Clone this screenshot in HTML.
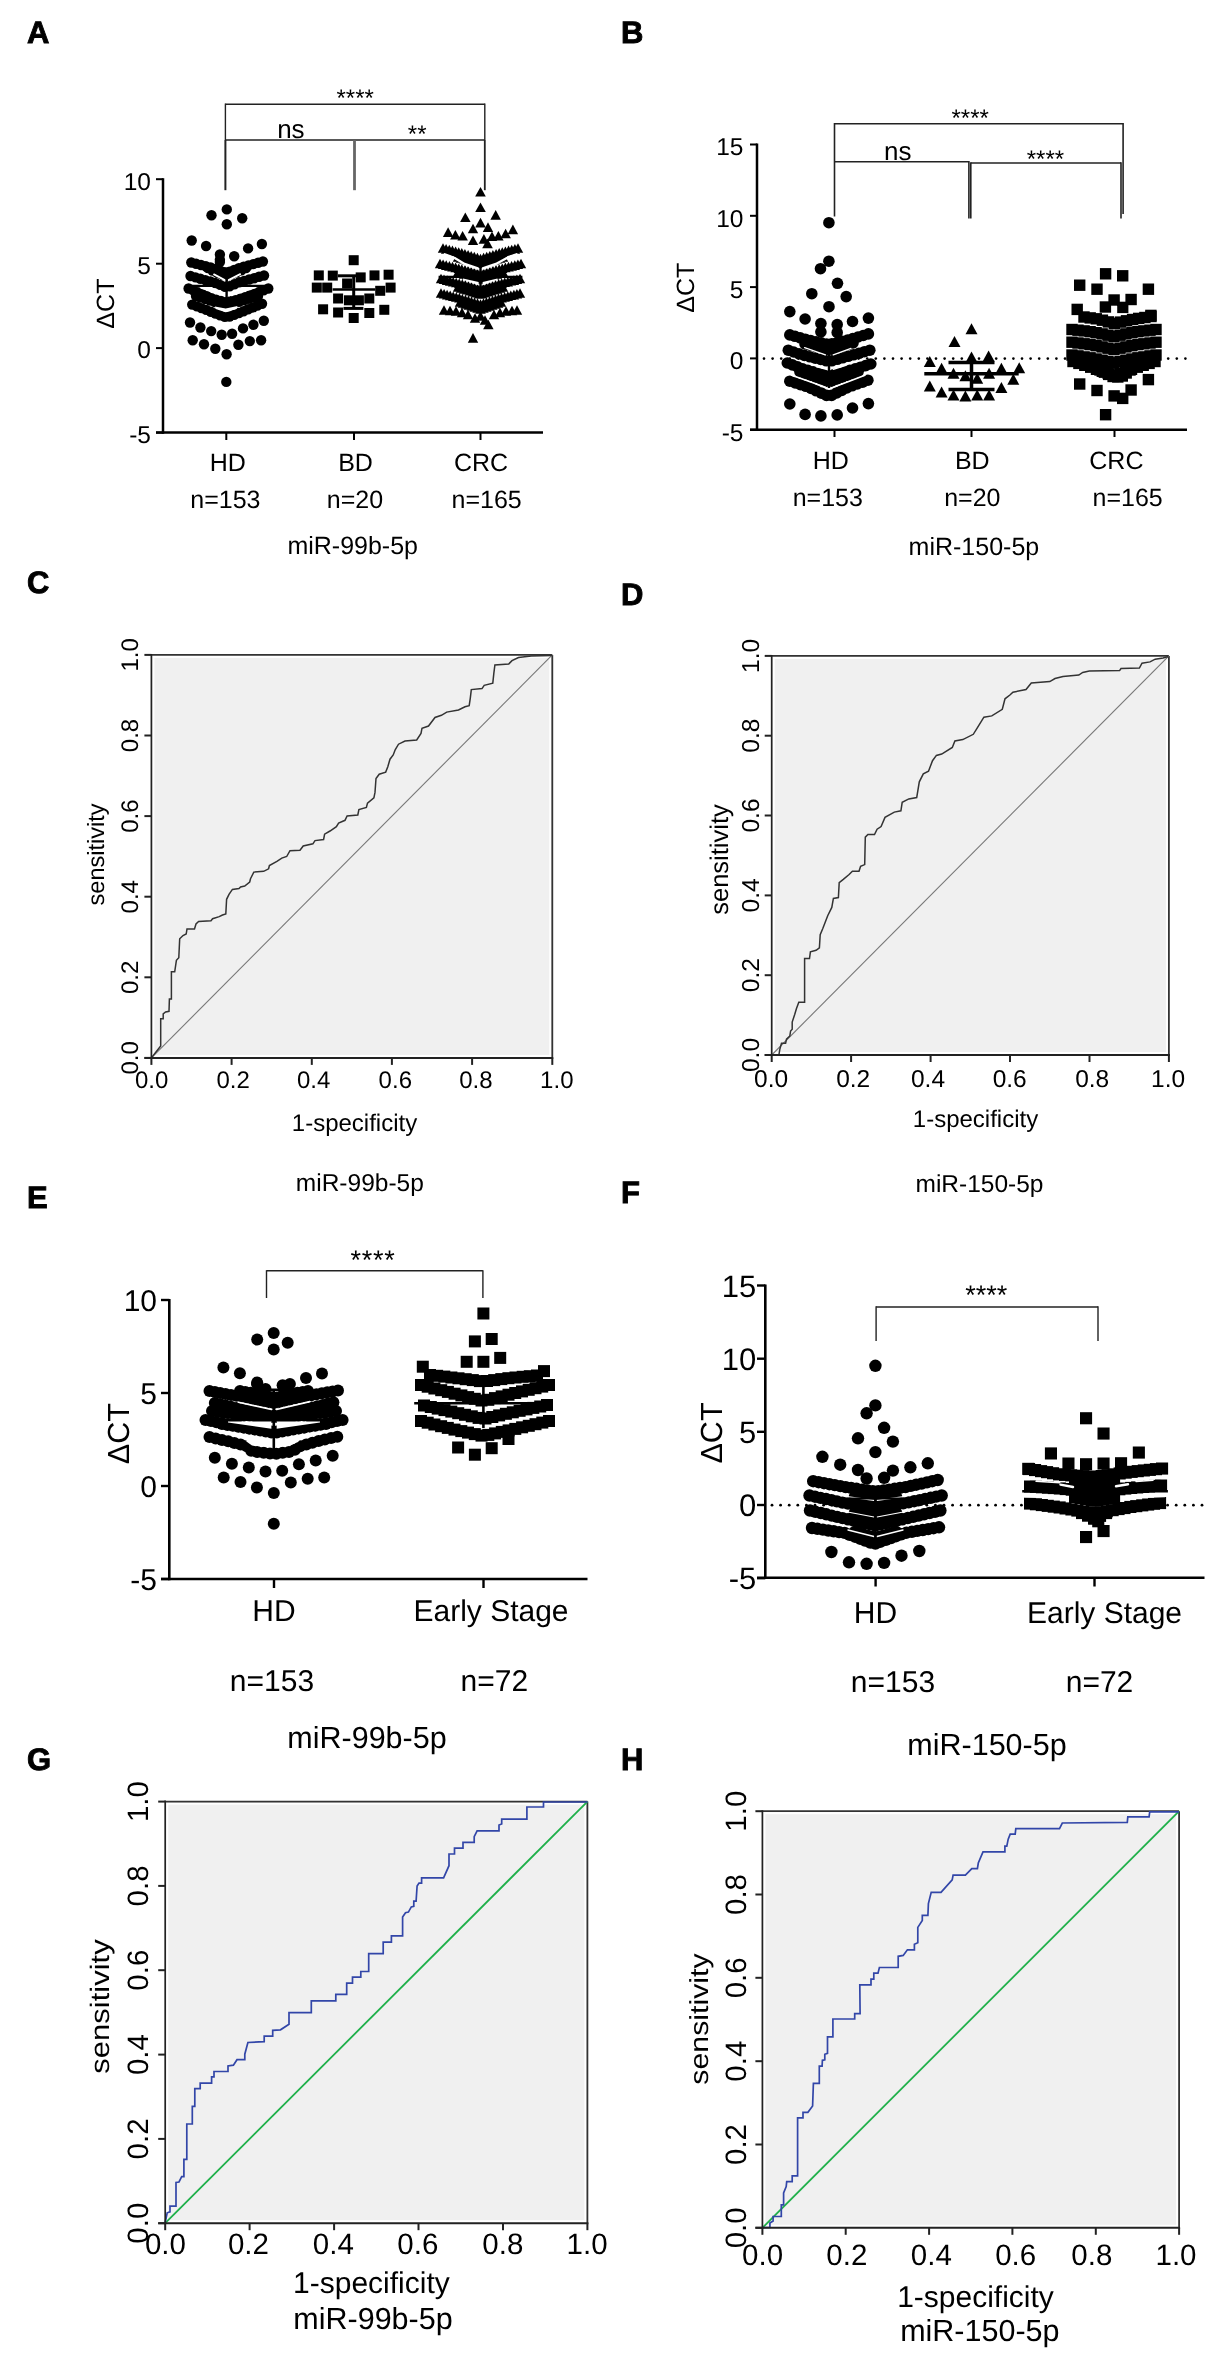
<!DOCTYPE html>
<html><head><meta charset="utf-8"><style>
html,body{margin:0;padding:0;background:#fff;}
body{width:1214px;height:2356px;overflow:hidden;}
svg{display:block;font-family:"Liberation Sans", sans-serif;will-change:transform;text-rendering:geometricPrecision;}
</style></head><body>
<svg width="1214" height="2356" viewBox="0 0 1214 2356">
<rect width="1214" height="2356" fill="#fff"/>
<text x="27" y="43" font-size="31" text-anchor="start" font-weight="bold" fill="#000" stroke="#000" stroke-width="0.9">A</text>
<text x="621" y="43" font-size="31" text-anchor="start" font-weight="bold" fill="#000" stroke="#000" stroke-width="0.9">B</text>
<text x="27" y="593" font-size="31" text-anchor="start" font-weight="bold" fill="#000" stroke="#000" stroke-width="0.9">C</text>
<text x="621" y="605" font-size="31" text-anchor="start" font-weight="bold" fill="#000" stroke="#000" stroke-width="0.9">D</text>
<text x="27" y="1208" font-size="31" text-anchor="start" font-weight="bold" fill="#000" stroke="#000" stroke-width="0.9">E</text>
<text x="621" y="1203" font-size="31" text-anchor="start" font-weight="bold" fill="#000" stroke="#000" stroke-width="0.9">F</text>
<text x="27" y="1770" font-size="31" text-anchor="start" font-weight="bold" fill="#000" stroke="#000" stroke-width="0.9">G</text>
<text x="621" y="1770" font-size="31" text-anchor="start" font-weight="bold" fill="#000" stroke="#000" stroke-width="0.9">H</text>
<line x1="163" y1="178.2" x2="163" y2="433.8" stroke="#000" stroke-width="2.5"/>
<line x1="156" y1="179.2" x2="163" y2="179.2" stroke="#000" stroke-width="2"/>
<text x="151" y="189.5" font-size="24.5" text-anchor="end" fill="#000">10</text>
<line x1="156" y1="263.7" x2="163" y2="263.7" stroke="#000" stroke-width="2"/>
<text x="151" y="274" font-size="24.5" text-anchor="end" fill="#000">5</text>
<line x1="156" y1="348.1" x2="163" y2="348.1" stroke="#000" stroke-width="2"/>
<text x="151" y="358.4" font-size="24.5" text-anchor="end" fill="#000">0</text>
<line x1="156" y1="432.6" x2="163" y2="432.6" stroke="#000" stroke-width="2"/>
<text x="151" y="442.9" font-size="24.5" text-anchor="end" fill="#000">-5</text>
<line x1="156" y1="432.6" x2="543" y2="432.6" stroke="#000" stroke-width="2.5"/>
<line x1="226.3" y1="432.6" x2="226.3" y2="440" stroke="#000" stroke-width="2"/>
<line x1="354" y1="432.6" x2="354" y2="440" stroke="#000" stroke-width="2"/>
<line x1="480.5" y1="432.6" x2="480.5" y2="440" stroke="#000" stroke-width="2"/>
<text x="113.9" y="303.6" font-size="25" text-anchor="middle" transform="rotate(-90 113.9 303.6)" fill="#000">ΔCT</text>
<text x="227.8" y="471" font-size="25" text-anchor="middle" fill="#000">HD</text>
<text x="355.5" y="471" font-size="25" text-anchor="middle" fill="#000">BD</text>
<text x="481" y="471" font-size="25" text-anchor="middle" fill="#000">CRC</text>
<text x="225.4" y="507.6" font-size="25" text-anchor="middle" fill="#000">n=153</text>
<text x="355" y="507.6" font-size="25" text-anchor="middle" fill="#000">n=20</text>
<text x="486.6" y="507.6" font-size="25" text-anchor="middle" fill="#000">n=165</text>
<text x="352.7" y="554" font-size="25" text-anchor="middle" fill="#000">miR-99b-5p</text>
<line x1="225.4" y1="104.2" x2="484.8" y2="104.2" stroke="#222" stroke-width="1.4"/>
<line x1="225.4" y1="103.5" x2="225.4" y2="140" stroke="#222" stroke-width="1.4"/>
<line x1="484.8" y1="103.5" x2="484.8" y2="140" stroke="#222" stroke-width="1.4"/>
<line x1="225.4" y1="140" x2="484.8" y2="140" stroke="#222" stroke-width="1.4"/>
<line x1="225.4" y1="140" x2="225.4" y2="190.2" stroke="#222" stroke-width="2"/>
<line x1="354.5" y1="140" x2="354.5" y2="190.2" stroke="#666" stroke-width="2.8"/>
<line x1="484.8" y1="140" x2="484.8" y2="190.2" stroke="#222" stroke-width="1.8"/>
<text x="355.2" y="106" font-size="24" text-anchor="middle" fill="#000" letter-spacing="0">****</text>
<text x="290.9" y="137.7" font-size="26" text-anchor="middle" fill="#000">ns</text>
<text x="417.2" y="141.5" font-size="24" text-anchor="middle" fill="#000">**</text>
<circle cx="226.8" cy="209.4" r="5.2"/>
<circle cx="211.5" cy="215.3" r="5.2"/>
<circle cx="242.2" cy="218.3" r="5.2"/>
<circle cx="226.8" cy="224.2" r="5.2"/>
<circle cx="191.7" cy="240.5" r="5.2"/>
<circle cx="206.1" cy="246" r="5.2"/>
<circle cx="219.9" cy="254.4" r="5.2"/>
<circle cx="234.2" cy="256.3" r="5.2"/>
<circle cx="248.1" cy="248.4" r="5.2"/>
<circle cx="261.9" cy="244" r="5.2"/>
<circle cx="219.9" cy="259.8" r="5.2"/>
<circle cx="219.9" cy="262" r="5.2"/>
<circle cx="190" cy="322.5" r="5.2"/>
<circle cx="200.4" cy="327.5" r="5.2"/>
<circle cx="211.2" cy="331.1" r="5.2"/>
<circle cx="221.7" cy="334.7" r="5.2"/>
<circle cx="232.1" cy="333.8" r="5.2"/>
<circle cx="243" cy="328.4" r="5.2"/>
<circle cx="253.4" cy="324.8" r="5.2"/>
<circle cx="263.8" cy="320.7" r="5.2"/>
<circle cx="192.7" cy="340.2" r="5.2"/>
<circle cx="204" cy="344.2" r="5.2"/>
<circle cx="215.3" cy="348.8" r="5.2"/>
<circle cx="226.6" cy="354.2" r="5.2"/>
<circle cx="238.4" cy="344.7" r="5.2"/>
<circle cx="249.8" cy="341.1" r="5.2"/>
<circle cx="261.1" cy="340.2" r="5.2"/>
<circle cx="226.3" cy="381.9" r="5.2"/>
<circle cx="191.3" cy="262.5" r="5.2"/>
<circle cx="196.1" cy="263.7" r="5.2"/>
<circle cx="201" cy="265" r="5.2"/>
<circle cx="205.8" cy="266.2" r="5.2"/>
<circle cx="210.7" cy="267.5" r="5.2"/>
<circle cx="215.5" cy="268.9" r="5.2"/>
<circle cx="220.2" cy="270.6" r="5.2"/>
<circle cx="224.8" cy="272.3" r="5.2"/>
<circle cx="229.5" cy="271.8" r="5.2"/>
<circle cx="234.1" cy="270" r="5.2"/>
<circle cx="238.8" cy="268.1" r="5.2"/>
<circle cx="243.6" cy="266.7" r="5.2"/>
<circle cx="248.4" cy="265.4" r="5.2"/>
<circle cx="253.2" cy="264.1" r="5.2"/>
<circle cx="258.1" cy="262.8" r="5.2"/>
<circle cx="262.9" cy="261.5" r="5.2"/>
<circle cx="208" cy="268" r="5.2"/>
<circle cx="212.5" cy="270.6" r="5.2"/>
<circle cx="217.2" cy="272.8" r="5.2"/>
<circle cx="222.1" cy="274.7" r="5.2"/>
<circle cx="226.9" cy="276.4" r="5.2"/>
<circle cx="231.7" cy="274.3" r="5.2"/>
<circle cx="236.5" cy="272.3" r="5.2"/>
<circle cx="241.3" cy="270.2" r="5.2"/>
<circle cx="246" cy="268" r="5.2"/>
<circle cx="190.5" cy="276" r="5.2"/>
<circle cx="195.5" cy="277.4" r="5.2"/>
<circle cx="200.4" cy="278.7" r="5.2"/>
<circle cx="205.4" cy="280.1" r="5.2"/>
<circle cx="210.4" cy="281.5" r="5.2"/>
<circle cx="215.3" cy="283" r="5.2"/>
<circle cx="220.1" cy="284.9" r="5.2"/>
<circle cx="224.9" cy="286.8" r="5.2"/>
<circle cx="229.6" cy="286.3" r="5.2"/>
<circle cx="234.4" cy="284.3" r="5.2"/>
<circle cx="239.2" cy="282.3" r="5.2"/>
<circle cx="244.1" cy="280.9" r="5.2"/>
<circle cx="249.1" cy="279.5" r="5.2"/>
<circle cx="254.1" cy="278.2" r="5.2"/>
<circle cx="259" cy="276.8" r="5.2"/>
<circle cx="264" cy="275.5" r="5.2"/>
<circle cx="188.6" cy="288.5" r="5.2"/>
<circle cx="193.2" cy="290.4" r="5.2"/>
<circle cx="197.8" cy="292.3" r="5.2"/>
<circle cx="202.4" cy="294.3" r="5.2"/>
<circle cx="206.9" cy="296.2" r="5.2"/>
<circle cx="211.5" cy="298.1" r="5.2"/>
<circle cx="216.2" cy="299.8" r="5.2"/>
<circle cx="221" cy="301" r="5.2"/>
<circle cx="225.9" cy="302.1" r="5.2"/>
<circle cx="230.7" cy="301.3" r="5.2"/>
<circle cx="235.5" cy="300.2" r="5.2"/>
<circle cx="240.3" cy="298.8" r="5.2"/>
<circle cx="245" cy="297.1" r="5.2"/>
<circle cx="249.6" cy="295.4" r="5.2"/>
<circle cx="254.3" cy="293.7" r="5.2"/>
<circle cx="259" cy="291.9" r="5.2"/>
<circle cx="263.6" cy="290.2" r="5.2"/>
<circle cx="268.3" cy="288.5" r="5.2"/>
<circle cx="196" cy="296" r="5.2"/>
<circle cx="200.7" cy="297.5" r="5.2"/>
<circle cx="205.5" cy="299" r="5.2"/>
<circle cx="210.2" cy="300.5" r="5.2"/>
<circle cx="214.9" cy="302" r="5.2"/>
<circle cx="219.8" cy="303.2" r="5.2"/>
<circle cx="224.6" cy="304.5" r="5.2"/>
<circle cx="229.4" cy="304.3" r="5.2"/>
<circle cx="234.2" cy="303.1" r="5.2"/>
<circle cx="239" cy="301.8" r="5.2"/>
<circle cx="243.7" cy="300.4" r="5.2"/>
<circle cx="248.5" cy="298.9" r="5.2"/>
<circle cx="253.2" cy="297.5" r="5.2"/>
<circle cx="258" cy="296" r="5.2"/>
<circle cx="192.2" cy="304.6" r="5.2"/>
<circle cx="196.9" cy="306.4" r="5.2"/>
<circle cx="201.5" cy="308.1" r="5.2"/>
<circle cx="206.2" cy="309.9" r="5.2"/>
<circle cx="210.8" cy="311.7" r="5.2"/>
<circle cx="215.5" cy="313.5" r="5.2"/>
<circle cx="220.1" cy="315.2" r="5.2"/>
<circle cx="224.8" cy="316.9" r="5.2"/>
<circle cx="229.5" cy="316.5" r="5.2"/>
<circle cx="234.2" cy="314.8" r="5.2"/>
<circle cx="238.9" cy="313" r="5.2"/>
<circle cx="243.5" cy="311.2" r="5.2"/>
<circle cx="248.1" cy="309.3" r="5.2"/>
<circle cx="252.8" cy="307.5" r="5.2"/>
<circle cx="257.4" cy="305.6" r="5.2"/>
<circle cx="262" cy="303.8" r="5.2"/>
<polyline points="214,274.4 225.3,280.4" fill="none" stroke="#fff" stroke-width="1.8" stroke-linecap="round" stroke-linejoin="round"/>
<polyline points="228.5,280.1 240.2,274.1" fill="none" stroke="#fff" stroke-width="1.8" stroke-linecap="round" stroke-linejoin="round"/>
<polygon points="200.4,287.3 214,288.3 225,292.8 225,296.6 212,292.2 200.4,288.6" fill="#fff"/>
<polygon points="229,296.6 229,292.8 243.9,288.3 255.6,287 255.6,288.3 242,292.5" fill="#fff"/>
<polygon points="214.9,306.6 225.7,308.4 237.5,306.1 236.6,308.9 225.7,312.3 215.8,308.9" fill="#fff"/>
<line x1="185" y1="285.8" x2="269.2" y2="285.8" stroke="#000" stroke-width="2.2"/>
<line x1="226.6" y1="268" x2="226.6" y2="305" stroke="#000" stroke-width="2.4"/>
<rect x="348.7" y="255.2" width="10" height="10"/>
<rect x="313.8" y="270.4" width="10" height="10"/>
<rect x="327.8" y="270.6" width="10" height="10"/>
<rect x="355.7" y="272.4" width="10" height="10"/>
<rect x="369.5" y="270.4" width="10" height="10"/>
<rect x="383.6" y="269.7" width="10" height="10"/>
<rect x="311.8" y="282.6" width="10" height="10"/>
<rect x="322.2" y="282.6" width="10" height="10"/>
<rect x="342.1" y="278.5" width="10" height="10"/>
<rect x="385.6" y="282.6" width="10" height="10"/>
<rect x="375.2" y="285.8" width="10" height="10"/>
<rect x="333.1" y="293.5" width="10" height="10"/>
<rect x="343.9" y="295.3" width="10" height="10"/>
<rect x="353.9" y="295.3" width="10" height="10"/>
<rect x="364.3" y="293.5" width="10" height="10"/>
<rect x="318.1" y="304.3" width="10" height="10"/>
<rect x="333.1" y="307.5" width="10" height="10"/>
<rect x="348.7" y="313" width="10" height="10"/>
<rect x="364.3" y="308" width="10" height="10"/>
<rect x="379.3" y="304.8" width="10" height="10"/>
<line x1="332.6" y1="289.4" x2="375.2" y2="289.4" stroke="#000" stroke-width="2.5"/>
<line x1="338" y1="275.8" x2="356" y2="275.8" stroke="#000" stroke-width="3"/>
<line x1="343.5" y1="308.4" x2="363.4" y2="308.4" stroke="#000" stroke-width="3"/>
<line x1="353.7" y1="275.8" x2="353.7" y2="308.4" stroke="#000" stroke-width="3"/>
<path d="M480.5 187L485.8 196.6L475.2 196.6Z"/>
<path d="M480.5 202.4L485.8 212L475.2 212Z"/>
<path d="M465.3 212.4L470.6 222L460.1 222Z"/>
<path d="M495.7 210.1L500.9 219.7L490.4 219.7Z"/>
<path d="M480.5 217.8L485.8 227.4L475.2 227.4Z"/>
<path d="M473 223.7L478.2 233.3L467.8 233.3Z"/>
<path d="M488 222.3L493.2 231.9L482.8 231.9Z"/>
<path d="M448.1 227.3L453.4 236.9L442.9 236.9Z"/>
<path d="M512.9 224.6L518.1 234.2L507.6 234.2Z"/>
<path d="M455.4 230L460.6 239.6L450.1 239.6Z"/>
<path d="M462.6 230.9L467.9 240.5L457.4 240.5Z"/>
<path d="M505.6 228.7L510.9 238.3L500.4 238.3Z"/>
<path d="M498.4 230.9L503.6 240.5L493.1 240.5Z"/>
<path d="M492 231.4L497.2 241L486.8 241Z"/>
<path d="M473 235.5L478.2 245.1L467.8 245.1Z"/>
<path d="M483.9 234.1L489.1 243.7L478.6 243.7Z"/>
<path d="M487.5 238.6L492.8 248.2L482.2 248.2Z"/>
<path d="M444 305.2L449.2 314.8L438.8 314.8Z"/>
<path d="M450 305.7L455.2 315.3L444.8 315.3Z"/>
<path d="M456 306.2L461.2 315.8L450.8 315.8Z"/>
<path d="M462 307.7L467.2 317.3L456.8 317.3Z"/>
<path d="M468 309.7L473.2 319.3L462.8 319.3Z"/>
<path d="M475 313.2L480.2 322.8L469.8 322.8Z"/>
<path d="M480.5 311.2L485.8 320.8L475.2 320.8Z"/>
<path d="M485 315.2L490.2 324.8L479.8 324.8Z"/>
<path d="M488.4 319.7L493.6 329.3L483.1 329.3Z"/>
<path d="M494 309.7L499.2 319.3L488.8 319.3Z"/>
<path d="M500 307.7L505.2 317.3L494.8 317.3Z"/>
<path d="M506 306.2L511.2 315.8L500.8 315.8Z"/>
<path d="M512 305.7L517.2 315.3L506.8 315.3Z"/>
<path d="M517 305.2L522.2 314.8L511.8 314.8Z"/>
<path d="M473 333.1L478.2 342.7L467.8 342.7Z"/>
<path d="M443 243.2L448.2 252.8L437.8 252.8Z"/>
<path d="M446.1 244L451.4 253.7L440.9 253.7Z"/>
<path d="M449.3 244.8L454.5 254.5L444 254.5Z"/>
<path d="M452.4 245.6L457.7 255.3L447.2 255.3Z"/>
<path d="M455.6 246.5L460.8 256.1L450.3 256.1Z"/>
<path d="M458.7 247.3L463.9 257L453.4 257Z"/>
<path d="M461.8 248.1L467.1 257.8L456.6 257.8Z"/>
<path d="M464.9 249L470.2 258.7L459.7 258.7Z"/>
<path d="M468.1 250L473.3 259.6L462.8 259.6Z"/>
<path d="M471.2 250.9L476.4 260.6L465.9 260.6Z"/>
<path d="M474.3 251.8L479.5 261.5L469 261.5Z"/>
<path d="M477.4 252.7L482.6 262.4L472.1 262.4Z"/>
<path d="M480.5 253.7L485.8 263.3L475.2 263.3Z"/>
<path d="M483.6 252.7L488.9 262.4L478.4 262.4Z"/>
<path d="M486.7 251.8L492 261.5L481.5 261.5Z"/>
<path d="M489.8 250.9L495.1 260.6L484.6 260.6Z"/>
<path d="M492.9 250L498.2 259.6L487.7 259.6Z"/>
<path d="M496.1 249L501.3 258.7L490.8 258.7Z"/>
<path d="M499.2 248.1L504.4 257.8L493.9 257.8Z"/>
<path d="M502.3 247.3L507.6 257L497.1 257Z"/>
<path d="M505.4 246.5L510.7 256.1L500.2 256.1Z"/>
<path d="M508.6 245.6L513.8 255.3L503.3 255.3Z"/>
<path d="M511.7 244.8L517 254.5L506.5 254.5Z"/>
<path d="M514.9 244L520.1 253.7L509.6 253.7Z"/>
<path d="M518 243.2L523.2 252.8L512.8 252.8Z"/>
<path d="M440 258.7L445.2 268.3L434.8 268.3Z"/>
<path d="M443.1 259.5L448.4 269.1L437.9 269.1Z"/>
<path d="M446.2 260.2L451.5 269.9L441 269.9Z"/>
<path d="M449.4 261L454.6 270.7L444.1 270.7Z"/>
<path d="M452.5 261.8L457.7 271.5L447.2 271.5Z"/>
<path d="M455.6 262.6L460.9 272.2L450.4 272.2Z"/>
<path d="M458.7 263.4L464 273L453.5 273Z"/>
<path d="M461.8 264.2L467.1 273.8L456.6 273.8Z"/>
<path d="M465 265L470.2 274.7L459.7 274.7Z"/>
<path d="M468.1 265.8L473.3 275.5L462.8 275.5Z"/>
<path d="M471.2 266.7L476.4 276.3L465.9 276.3Z"/>
<path d="M474.3 267.5L479.5 277.2L469 277.2Z"/>
<path d="M477.4 268.3L482.6 278L472.1 278Z"/>
<path d="M480.5 269.2L485.8 278.8L475.2 278.8Z"/>
<path d="M483.6 268.3L488.9 278L478.4 278Z"/>
<path d="M486.7 267.5L492 277.2L481.5 277.2Z"/>
<path d="M489.8 266.7L495.1 276.3L484.6 276.3Z"/>
<path d="M492.9 265.8L498.2 275.5L487.7 275.5Z"/>
<path d="M496 265L501.3 274.7L490.8 274.7Z"/>
<path d="M499.2 264.2L504.4 273.8L493.9 273.8Z"/>
<path d="M502.3 263.4L507.5 273L497 273Z"/>
<path d="M505.4 262.6L510.6 272.2L500.1 272.2Z"/>
<path d="M508.5 261.8L513.8 271.5L503.3 271.5Z"/>
<path d="M511.6 261L516.9 270.7L506.4 270.7Z"/>
<path d="M514.8 260.2L520 269.9L509.5 269.9Z"/>
<path d="M517.9 259.5L523.1 269.1L512.6 269.1Z"/>
<path d="M521 258.7L526.2 268.3L515.8 268.3Z"/>
<path d="M441 273.7L446.2 283.3L435.8 283.3Z"/>
<path d="M444 274.5L449.3 284.1L438.8 284.1Z"/>
<path d="M447.1 275.3L452.3 284.9L441.8 284.9Z"/>
<path d="M450.1 276.1L455.4 285.7L444.9 285.7Z"/>
<path d="M453.2 276.9L458.4 286.5L447.9 286.5Z"/>
<path d="M456.2 277.7L461.5 287.3L451 287.3Z"/>
<path d="M459.2 278.5L464.5 288.1L454 288.1Z"/>
<path d="M462.3 279.3L467.5 288.9L457 288.9Z"/>
<path d="M465.3 280.1L470.6 289.8L460.1 289.8Z"/>
<path d="M468.4 280.9L473.6 290.6L463.1 290.6Z"/>
<path d="M471.4 281.7L476.6 291.4L466.1 291.4Z"/>
<path d="M474.4 282.5L479.7 292.2L469.2 292.2Z"/>
<path d="M477.5 283.4L482.7 293L472.2 293Z"/>
<path d="M480.5 284.2L485.8 293.8L475.3 293.8Z"/>
<path d="M483.5 283.3L488.8 293L478.3 293Z"/>
<path d="M486.6 282.5L491.8 292.1L481.3 292.1Z"/>
<path d="M489.6 281.6L494.8 291.3L484.3 291.3Z"/>
<path d="M492.6 280.8L497.9 290.4L487.4 290.4Z"/>
<path d="M495.6 279.9L500.9 289.6L490.4 289.6Z"/>
<path d="M498.7 279L503.9 288.7L493.4 288.7Z"/>
<path d="M501.7 278.2L506.9 287.9L496.4 287.9Z"/>
<path d="M504.7 277.5L510 287.1L499.5 287.1Z"/>
<path d="M507.8 276.7L513 286.4L502.5 286.4Z"/>
<path d="M510.8 276L516.1 285.6L505.6 285.6Z"/>
<path d="M513.9 275.2L519.1 284.9L508.6 284.9Z"/>
<path d="M516.9 274.4L522.2 284.1L511.7 284.1Z"/>
<path d="M520 273.7L525.2 283.3L514.8 283.3Z"/>
<path d="M441 288.2L446.2 297.8L435.8 297.8Z"/>
<path d="M444.1 289L449.3 298.6L438.8 298.6Z"/>
<path d="M447.1 289.8L452.4 299.4L441.9 299.4Z"/>
<path d="M450.2 290.6L455.4 300.2L444.9 300.2Z"/>
<path d="M453.2 291.4L458.5 301L448 301Z"/>
<path d="M456.3 292.2L461.5 301.8L451 301.8Z"/>
<path d="M459.3 293L464.6 302.6L454.1 302.6Z"/>
<path d="M462.3 293.9L467.6 303.5L457.1 303.5Z"/>
<path d="M465.4 294.7L470.6 304.4L460.1 304.4Z"/>
<path d="M468.4 295.6L473.6 305.3L463.1 305.3Z"/>
<path d="M471.4 296.5L476.7 306.2L466.2 306.2Z"/>
<path d="M474.4 297.4L479.7 307.1L469.2 307.1Z"/>
<path d="M477.5 298.3L482.7 307.9L472.2 307.9Z"/>
<path d="M480.5 299.2L485.8 308.8L475.3 308.8Z"/>
<path d="M483.5 298.2L488.8 307.9L478.3 307.9Z"/>
<path d="M486.5 297.3L491.8 307L481.3 307Z"/>
<path d="M489.6 296.4L494.8 306L484.3 306Z"/>
<path d="M492.6 295.5L497.8 305.1L487.3 305.1Z"/>
<path d="M495.6 294.5L500.8 304.2L490.3 304.2Z"/>
<path d="M498.6 293.6L503.8 303.3L493.3 303.3Z"/>
<path d="M501.6 292.8L506.9 302.4L496.4 302.4Z"/>
<path d="M504.7 292L509.9 301.7L499.4 301.7Z"/>
<path d="M507.8 291.2L513 300.9L502.5 300.9Z"/>
<path d="M510.8 290.5L516.1 300.1L505.6 300.1Z"/>
<path d="M513.9 289.7L519.1 299.4L508.6 299.4Z"/>
<path d="M516.9 288.9L522.2 298.6L511.7 298.6Z"/>
<path d="M520 288.2L525.2 297.8L514.8 297.8Z"/>
<path d="M458 252.2L463.2 261.8L452.8 261.8Z"/>
<path d="M461 253L466.2 262.7L455.8 262.7Z"/>
<path d="M464 253.9L469.2 263.6L458.8 263.6Z"/>
<path d="M467 254.8L472.2 264.4L461.8 264.4Z"/>
<path d="M470 255.6L475.2 265.3L464.8 265.3Z"/>
<path d="M473 256.5L478.2 266.2L467.8 266.2Z"/>
<path d="M476 257.4L481.2 267L470.8 267Z"/>
<path d="M479 258.2L484.2 267.9L473.8 267.9Z"/>
<path d="M482 258.2L487.2 267.9L476.8 267.9Z"/>
<path d="M485 257.4L490.2 267L479.8 267Z"/>
<path d="M488 256.5L493.2 266.2L482.8 266.2Z"/>
<path d="M491 255.6L496.2 265.3L485.8 265.3Z"/>
<path d="M494 254.8L499.2 264.4L488.8 264.4Z"/>
<path d="M497 253.9L502.2 263.6L491.8 263.6Z"/>
<path d="M500 253L505.2 262.7L494.8 262.7Z"/>
<path d="M503 252.2L508.2 261.8L497.8 261.8Z"/>
<path d="M458 267.2L463.2 276.8L452.8 276.8Z"/>
<path d="M461 268.1L466.2 277.8L455.8 277.8Z"/>
<path d="M464 269L469.2 278.7L458.8 278.7Z"/>
<path d="M467 270L472.2 279.6L461.8 279.6Z"/>
<path d="M470 270.9L475.2 280.6L464.8 280.6Z"/>
<path d="M473 271.8L478.2 281.5L467.8 281.5Z"/>
<path d="M476 272.8L481.2 282.4L470.8 282.4Z"/>
<path d="M479 273.7L484.2 283.4L473.8 283.4Z"/>
<path d="M482 273.7L487.2 283.4L476.8 283.4Z"/>
<path d="M485 272.8L490.2 282.4L479.8 282.4Z"/>
<path d="M488 271.8L493.2 281.5L482.8 281.5Z"/>
<path d="M491 270.9L496.2 280.6L485.8 280.6Z"/>
<path d="M494 270L499.2 279.6L488.8 279.6Z"/>
<path d="M497 269L502.2 278.7L491.8 278.7Z"/>
<path d="M500 268.1L505.2 277.8L494.8 277.8Z"/>
<path d="M503 267.2L508.2 276.8L497.8 276.8Z"/>
<path d="M458 282.2L463.2 291.8L452.8 291.8Z"/>
<path d="M461 283.1L466.2 292.8L455.8 292.8Z"/>
<path d="M464 284L469.2 293.7L458.8 293.7Z"/>
<path d="M467 285L472.2 294.6L461.8 294.6Z"/>
<path d="M470 285.9L475.2 295.6L464.8 295.6Z"/>
<path d="M473 286.8L478.2 296.5L467.8 296.5Z"/>
<path d="M476 287.8L481.2 297.4L470.8 297.4Z"/>
<path d="M479 288.7L484.2 298.4L473.8 298.4Z"/>
<path d="M482 288.7L487.2 298.4L476.8 298.4Z"/>
<path d="M485 287.8L490.2 297.4L479.8 297.4Z"/>
<path d="M488 286.8L493.2 296.5L482.8 296.5Z"/>
<path d="M491 285.9L496.2 295.6L485.8 295.6Z"/>
<path d="M494 285L499.2 294.6L488.8 294.6Z"/>
<path d="M497 284L502.2 293.7L491.8 293.7Z"/>
<path d="M500 283.1L505.2 292.8L494.8 292.8Z"/>
<path d="M503 282.2L508.2 291.8L497.8 291.8Z"/>
<path d="M460 297.2L465.2 306.8L454.8 306.8Z"/>
<path d="M462.9 298.2L468.2 307.8L457.7 307.8Z"/>
<path d="M465.9 299.2L471.1 308.8L460.6 308.8Z"/>
<path d="M468.8 300.2L474 309.8L463.5 309.8Z"/>
<path d="M471.7 301.2L477 310.8L466.5 310.8Z"/>
<path d="M474.6 302.2L479.9 311.8L469.4 311.8Z"/>
<path d="M477.6 303.2L482.8 312.8L472.3 312.8Z"/>
<path d="M480.5 304.2L485.8 313.8L475.2 313.8Z"/>
<path d="M483.4 303.2L488.7 312.8L478.2 312.8Z"/>
<path d="M486.4 302.2L491.6 311.8L481.1 311.8Z"/>
<path d="M489.3 301.2L494.5 310.8L484 310.8Z"/>
<path d="M492.2 300.2L497.5 309.8L487 309.8Z"/>
<path d="M495.1 299.2L500.4 308.8L489.9 308.8Z"/>
<path d="M498.1 298.2L503.3 307.8L492.8 307.8Z"/>
<path d="M501 297.2L506.2 306.8L495.8 306.8Z"/>
<polyline points="444.8,254.3 454.7,258 464.6,264 477.8,268.5" fill="none" stroke="#fff" stroke-width="2.4" stroke-linecap="round" stroke-linejoin="round"/>
<polyline points="482.7,268.5 495.9,264 508.3,257.2 516.5,254.3" fill="none" stroke="#fff" stroke-width="2.4" stroke-linecap="round" stroke-linejoin="round"/>
<polygon points="463,278.4 478.6,282 478.6,285.2 463,279.8" fill="#fff"/>
<polygon points="482.7,285.2 482.7,282 497.5,278.4 497.5,279.8" fill="#fff"/>
<line x1="438.6" y1="276.8" x2="522.4" y2="276.8" stroke="#000" stroke-width="2.2"/>
<line x1="480.5" y1="262" x2="480.5" y2="296" stroke="#000" stroke-width="2.4"/>
<line x1="757" y1="143.5" x2="757" y2="431" stroke="#000" stroke-width="2.5"/>
<line x1="750" y1="144.5" x2="757" y2="144.5" stroke="#000" stroke-width="2"/>
<text x="743.5" y="155.3" font-size="24.5" text-anchor="end" fill="#000">15</text>
<line x1="750" y1="215.8" x2="757" y2="215.8" stroke="#000" stroke-width="2"/>
<text x="743.5" y="226.6" font-size="24.5" text-anchor="end" fill="#000">10</text>
<line x1="750" y1="287.1" x2="757" y2="287.1" stroke="#000" stroke-width="2"/>
<text x="743.5" y="297.9" font-size="24.5" text-anchor="end" fill="#000">5</text>
<line x1="750" y1="358.4" x2="757" y2="358.4" stroke="#000" stroke-width="2"/>
<text x="743.5" y="369.2" font-size="24.5" text-anchor="end" fill="#000">0</text>
<line x1="750" y1="429.7" x2="757" y2="429.7" stroke="#000" stroke-width="2"/>
<text x="743.5" y="440.5" font-size="24.5" text-anchor="end" fill="#000">-5</text>
<line x1="750" y1="429.7" x2="1187" y2="429.7" stroke="#000" stroke-width="2.5"/>
<line x1="834.5" y1="429.7" x2="834.5" y2="437" stroke="#000" stroke-width="2"/>
<line x1="971.5" y1="429.7" x2="971.5" y2="437" stroke="#000" stroke-width="2"/>
<line x1="1114.5" y1="429.7" x2="1114.5" y2="437" stroke="#000" stroke-width="2"/>
<circle cx="764" cy="358.6" r="1.3"/>
<circle cx="772.6" cy="358.6" r="1.3"/>
<circle cx="781.2" cy="358.6" r="1.3"/>
<circle cx="789.8" cy="358.6" r="1.3"/>
<circle cx="798.4" cy="358.6" r="1.3"/>
<circle cx="807" cy="358.6" r="1.3"/>
<circle cx="815.6" cy="358.6" r="1.3"/>
<circle cx="824.2" cy="358.6" r="1.3"/>
<circle cx="832.8" cy="358.6" r="1.3"/>
<circle cx="841.4" cy="358.6" r="1.3"/>
<circle cx="850" cy="358.6" r="1.3"/>
<circle cx="858.6" cy="358.6" r="1.3"/>
<circle cx="867.2" cy="358.6" r="1.3"/>
<circle cx="875.8" cy="358.6" r="1.3"/>
<circle cx="884.4" cy="358.6" r="1.3"/>
<circle cx="893" cy="358.6" r="1.3"/>
<circle cx="901.6" cy="358.6" r="1.3"/>
<circle cx="910.2" cy="358.6" r="1.3"/>
<circle cx="918.8" cy="358.6" r="1.3"/>
<circle cx="927.4" cy="358.6" r="1.3"/>
<circle cx="936" cy="358.6" r="1.3"/>
<circle cx="944.6" cy="358.6" r="1.3"/>
<circle cx="953.2" cy="358.6" r="1.3"/>
<circle cx="961.8" cy="358.6" r="1.3"/>
<circle cx="970.4" cy="358.6" r="1.3"/>
<circle cx="979" cy="358.6" r="1.3"/>
<circle cx="987.6" cy="358.6" r="1.3"/>
<circle cx="996.2" cy="358.6" r="1.3"/>
<circle cx="1004.8" cy="358.6" r="1.3"/>
<circle cx="1013.4" cy="358.6" r="1.3"/>
<circle cx="1022" cy="358.6" r="1.3"/>
<circle cx="1030.6" cy="358.6" r="1.3"/>
<circle cx="1039.2" cy="358.6" r="1.3"/>
<circle cx="1047.8" cy="358.6" r="1.3"/>
<circle cx="1056.4" cy="358.6" r="1.3"/>
<circle cx="1065" cy="358.6" r="1.3"/>
<circle cx="1073.6" cy="358.6" r="1.3"/>
<circle cx="1082.2" cy="358.6" r="1.3"/>
<circle cx="1090.8" cy="358.6" r="1.3"/>
<circle cx="1099.4" cy="358.6" r="1.3"/>
<circle cx="1108" cy="358.6" r="1.3"/>
<circle cx="1116.6" cy="358.6" r="1.3"/>
<circle cx="1125.2" cy="358.6" r="1.3"/>
<circle cx="1133.8" cy="358.6" r="1.3"/>
<circle cx="1142.4" cy="358.6" r="1.3"/>
<circle cx="1151" cy="358.6" r="1.3"/>
<circle cx="1159.6" cy="358.6" r="1.3"/>
<circle cx="1168.2" cy="358.6" r="1.3"/>
<circle cx="1176.8" cy="358.6" r="1.3"/>
<circle cx="1185.4" cy="358.6" r="1.3"/>
<text x="694" y="287.8" font-size="25" text-anchor="middle" transform="rotate(-90 694 287.8)" fill="#000">ΔCT</text>
<text x="830.7" y="469" font-size="25" text-anchor="middle" fill="#000">HD</text>
<text x="972.3" y="469" font-size="25" text-anchor="middle" fill="#000">BD</text>
<text x="1116.4" y="469" font-size="25" text-anchor="middle" fill="#000">CRC</text>
<text x="827.8" y="506" font-size="25" text-anchor="middle" fill="#000">n=153</text>
<text x="972.3" y="506" font-size="25" text-anchor="middle" fill="#000">n=20</text>
<text x="1127.6" y="506" font-size="25" text-anchor="middle" fill="#000">n=165</text>
<text x="973.9" y="555.3" font-size="25" text-anchor="middle" fill="#000">miR-150-5p</text>
<line x1="834.5" y1="123.7" x2="1123.1" y2="123.7" stroke="#222" stroke-width="1.4"/>
<line x1="834.5" y1="123" x2="834.5" y2="216.5" stroke="#222" stroke-width="1.6"/>
<line x1="1123.1" y1="123" x2="1123.1" y2="214" stroke="#222" stroke-width="1.6"/>
<line x1="834.5" y1="161.7" x2="968.9" y2="161.7" stroke="#222" stroke-width="1.4"/>
<line x1="968.9" y1="161" x2="968.9" y2="218.6" stroke="#222" stroke-width="1.6"/>
<line x1="970.8" y1="163" x2="1121" y2="163" stroke="#222" stroke-width="1.4"/>
<line x1="970.8" y1="162.3" x2="970.8" y2="218.6" stroke="#222" stroke-width="1.6"/>
<line x1="1121" y1="162.3" x2="1121" y2="218.6" stroke="#222" stroke-width="1.6"/>
<text x="970.2" y="126" font-size="24" text-anchor="middle" fill="#000">****</text>
<text x="897.7" y="159.8" font-size="26" text-anchor="middle" fill="#000">ns</text>
<text x="1045.4" y="166.5" font-size="24" text-anchor="middle" fill="#000">****</text>
<circle cx="828.9" cy="222.7" r="5.8"/>
<circle cx="828.9" cy="261.2" r="5.8"/>
<circle cx="820.5" cy="268.7" r="5.8"/>
<circle cx="837.5" cy="283.3" r="5.8"/>
<circle cx="811.8" cy="293.7" r="5.8"/>
<circle cx="846.2" cy="296.6" r="5.8"/>
<circle cx="829" cy="306.7" r="5.8"/>
<circle cx="789.8" cy="311.6" r="5.8"/>
<circle cx="805.1" cy="319" r="5.8"/>
<circle cx="820.9" cy="323.5" r="5.8"/>
<circle cx="837.2" cy="324.5" r="5.8"/>
<circle cx="852.5" cy="321.5" r="5.8"/>
<circle cx="868.4" cy="318.1" r="5.8"/>
<circle cx="820.9" cy="331.9" r="5.8"/>
<circle cx="837.2" cy="332.4" r="5.8"/>
<circle cx="789.8" cy="404" r="5.8"/>
<circle cx="805.1" cy="414.4" r="5.8"/>
<circle cx="820.9" cy="415.9" r="5.8"/>
<circle cx="837.2" cy="414.9" r="5.8"/>
<circle cx="852.5" cy="408" r="5.8"/>
<circle cx="868.4" cy="403.6" r="5.8"/>
<circle cx="789.8" cy="334.9" r="5.8"/>
<circle cx="795" cy="336.3" r="5.8"/>
<circle cx="800.2" cy="337.8" r="5.8"/>
<circle cx="805.4" cy="339.2" r="5.8"/>
<circle cx="810.7" cy="340.6" r="5.8"/>
<circle cx="816" cy="341.8" r="5.8"/>
<circle cx="821.3" cy="342.9" r="5.8"/>
<circle cx="826.6" cy="344" r="5.8"/>
<circle cx="831.8" cy="343.8" r="5.8"/>
<circle cx="837.1" cy="342.6" r="5.8"/>
<circle cx="842.4" cy="341.3" r="5.8"/>
<circle cx="847.6" cy="340.1" r="5.8"/>
<circle cx="852.8" cy="338.6" r="5.8"/>
<circle cx="858" cy="337" r="5.8"/>
<circle cx="863.2" cy="335.5" r="5.8"/>
<circle cx="868.4" cy="333.9" r="5.8"/>
<circle cx="805" cy="344" r="5.8"/>
<circle cx="810.4" cy="345.3" r="5.8"/>
<circle cx="815.7" cy="346.7" r="5.8"/>
<circle cx="821.1" cy="348" r="5.8"/>
<circle cx="826.5" cy="349.4" r="5.8"/>
<circle cx="831.8" cy="349.3" r="5.8"/>
<circle cx="837.2" cy="348" r="5.8"/>
<circle cx="842.5" cy="346.5" r="5.8"/>
<circle cx="847.8" cy="344.7" r="5.8"/>
<circle cx="853" cy="343" r="5.8"/>
<circle cx="788.3" cy="350.2" r="5.8"/>
<circle cx="793.6" cy="352" r="5.8"/>
<circle cx="799" cy="353.8" r="5.8"/>
<circle cx="804.4" cy="355.4" r="5.8"/>
<circle cx="809.9" cy="356.8" r="5.8"/>
<circle cx="815.3" cy="358.1" r="5.8"/>
<circle cx="820.8" cy="359.5" r="5.8"/>
<circle cx="826.3" cy="360.8" r="5.8"/>
<circle cx="831.8" cy="360.8" r="5.8"/>
<circle cx="837.2" cy="359.3" r="5.8"/>
<circle cx="842.6" cy="357.8" r="5.8"/>
<circle cx="848.1" cy="356.3" r="5.8"/>
<circle cx="853.5" cy="354.8" r="5.8"/>
<circle cx="859" cy="353.3" r="5.8"/>
<circle cx="864.4" cy="351.7" r="5.8"/>
<circle cx="869.8" cy="350.2" r="5.8"/>
<circle cx="787.3" cy="363" r="5.8"/>
<circle cx="792.4" cy="364.9" r="5.8"/>
<circle cx="797.5" cy="366.8" r="5.8"/>
<circle cx="802.6" cy="368.8" r="5.8"/>
<circle cx="807.8" cy="370.4" r="5.8"/>
<circle cx="813.1" cy="371.8" r="5.8"/>
<circle cx="818.3" cy="373.2" r="5.8"/>
<circle cx="823.6" cy="374.6" r="5.8"/>
<circle cx="828.9" cy="376" r="5.8"/>
<circle cx="834.1" cy="374.6" r="5.8"/>
<circle cx="839.4" cy="373.2" r="5.8"/>
<circle cx="844.7" cy="371.8" r="5.8"/>
<circle cx="849.9" cy="370.3" r="5.8"/>
<circle cx="855.2" cy="368.8" r="5.8"/>
<circle cx="860.4" cy="367.2" r="5.8"/>
<circle cx="865.6" cy="365.6" r="5.8"/>
<circle cx="870.8" cy="364" r="5.8"/>
<circle cx="800" cy="372" r="5.8"/>
<circle cx="805.3" cy="373.8" r="5.8"/>
<circle cx="810.6" cy="375.5" r="5.8"/>
<circle cx="815.9" cy="377.3" r="5.8"/>
<circle cx="821.1" cy="379.2" r="5.8"/>
<circle cx="826.4" cy="381.1" r="5.8"/>
<circle cx="831.6" cy="381.1" r="5.8"/>
<circle cx="836.9" cy="379.2" r="5.8"/>
<circle cx="842.1" cy="377.3" r="5.8"/>
<circle cx="847.4" cy="375.5" r="5.8"/>
<circle cx="852.7" cy="373.8" r="5.8"/>
<circle cx="858" cy="372" r="5.8"/>
<circle cx="789.8" cy="381.2" r="5.8"/>
<circle cx="795.2" cy="382.9" r="5.8"/>
<circle cx="800.5" cy="384.6" r="5.8"/>
<circle cx="805.9" cy="386.3" r="5.8"/>
<circle cx="811.1" cy="388.4" r="5.8"/>
<circle cx="816.2" cy="390.8" r="5.8"/>
<circle cx="821.4" cy="393.1" r="5.8"/>
<circle cx="826.5" cy="395.4" r="5.8"/>
<circle cx="831.6" cy="395.4" r="5.8"/>
<circle cx="836.7" cy="392.9" r="5.8"/>
<circle cx="841.7" cy="390.5" r="5.8"/>
<circle cx="846.8" cy="388" r="5.8"/>
<circle cx="852" cy="385.8" r="5.8"/>
<circle cx="857.3" cy="383.9" r="5.8"/>
<circle cx="862.6" cy="382.1" r="5.8"/>
<circle cx="867.9" cy="380.2" r="5.8"/>
<polyline points="804.6,347.6 825.4,354.8" fill="none" stroke="#fff" stroke-width="1.4" stroke-linecap="round" stroke-linejoin="round"/>
<polyline points="833.3,354.8 851,348.4" fill="none" stroke="#fff" stroke-width="1.4" stroke-linecap="round" stroke-linejoin="round"/>
<polyline points="816.5,366.4 827.3,369.6" fill="none" stroke="#fff" stroke-width="1.6" stroke-linecap="round" stroke-linejoin="round"/>
<polyline points="833.3,369.4 845,365.5" fill="none" stroke="#fff" stroke-width="1.4" stroke-linecap="round" stroke-linejoin="round"/>
<polyline points="791.7,375.3 808,381 825.4,387.2" fill="none" stroke="#fff" stroke-width="1.6" stroke-linecap="round" stroke-linejoin="round"/>
<polyline points="833.3,387.2 850,381 864.9,375.3" fill="none" stroke="#fff" stroke-width="1.6" stroke-linecap="round" stroke-linejoin="round"/>
<line x1="829" y1="345" x2="829" y2="388" stroke="#000" stroke-width="2.4"/>
<path d="M971.5 323.3L977.5 334.3L965.5 334.3Z"/>
<path d="M954.5 336.1L960.5 347.1L948.5 347.1Z"/>
<path d="M971.5 351.5L977.5 362.5L965.5 362.5Z"/>
<path d="M988.6 350.5L994.6 361.5L982.6 361.5Z"/>
<path d="M929.8 355.9L935.8 366.9L923.8 366.9Z"/>
<path d="M941.6 362.8L947.6 373.8L935.6 373.8Z"/>
<path d="M953.5 367.8L959.5 378.8L947.5 378.8Z"/>
<path d="M965.4 370.2L971.4 381.2L959.4 381.2Z"/>
<path d="M977.2 372.7L983.2 383.7L971.2 383.7Z"/>
<path d="M989.1 367.8L995.1 378.8L983.1 378.8Z"/>
<path d="M1001.4 362.8L1007.4 373.8L995.4 373.8Z"/>
<path d="M1019.2 362.3L1025.2 373.3L1013.2 373.3Z"/>
<path d="M1013.3 373.7L1019.3 384.7L1007.3 384.7Z"/>
<path d="M929.8 380.6L935.8 391.6L923.8 391.6Z"/>
<path d="M941.6 386.5L947.6 397.5L935.6 397.5Z"/>
<path d="M953.5 389.5L959.5 400.5L947.5 400.5Z"/>
<path d="M965.4 390.5L971.4 401.5L959.4 401.5Z"/>
<path d="M977.2 389.5L983.2 400.5L971.2 400.5Z"/>
<path d="M989.1 389.5L995.1 400.5L983.1 400.5Z"/>
<path d="M1001.4 382.1L1007.4 393.1L995.4 393.1Z"/>
<line x1="924.3" y1="373.8" x2="1018.7" y2="373.8" stroke="#000" stroke-width="3.5"/>
<line x1="948.5" y1="362.4" x2="994.5" y2="362.4" stroke="#000" stroke-width="3.5"/>
<line x1="948.5" y1="389.6" x2="994.5" y2="389.6" stroke="#000" stroke-width="3.5"/>
<line x1="971.5" y1="362.4" x2="971.5" y2="389.6" stroke="#000" stroke-width="3.5"/>
<rect x="1099.9" y="268.1" width="11.4" height="11.4"/>
<rect x="1117" y="270.1" width="11.4" height="11.4"/>
<rect x="1074" y="279.5" width="11.4" height="11.4"/>
<rect x="1091.3" y="283.5" width="11.4" height="11.4"/>
<rect x="1142.7" y="283.5" width="11.4" height="11.4"/>
<rect x="1108.4" y="294.3" width="11.4" height="11.4"/>
<rect x="1125.4" y="293.8" width="11.4" height="11.4"/>
<rect x="1071.5" y="303.7" width="11.4" height="11.4"/>
<rect x="1099.7" y="301.3" width="11.4" height="11.4"/>
<rect x="1117" y="301.7" width="11.4" height="11.4"/>
<rect x="1145.2" y="309.7" width="11.4" height="11.4"/>
<rect x="1142.7" y="373.9" width="11.4" height="11.4"/>
<rect x="1074" y="378.3" width="11.4" height="11.4"/>
<rect x="1091.3" y="384.8" width="11.4" height="11.4"/>
<rect x="1125.4" y="384.3" width="11.4" height="11.4"/>
<rect x="1108.4" y="390.2" width="11.4" height="11.4"/>
<rect x="1117" y="392.7" width="11.4" height="11.4"/>
<rect x="1099.9" y="409" width="11.4" height="11.4"/>
<rect x="1078.3" y="311.3" width="11.4" height="11.4"/>
<rect x="1084.5" y="312.2" width="11.4" height="11.4"/>
<rect x="1090.6" y="313.1" width="11.4" height="11.4"/>
<rect x="1096.7" y="314.5" width="11.4" height="11.4"/>
<rect x="1102.6" y="316.2" width="11.4" height="11.4"/>
<rect x="1108.6" y="317.7" width="11.4" height="11.4"/>
<rect x="1114.7" y="316.4" width="11.4" height="11.4"/>
<rect x="1120.8" y="315.1" width="11.4" height="11.4"/>
<rect x="1126.9" y="313.8" width="11.4" height="11.4"/>
<rect x="1133" y="312.7" width="11.4" height="11.4"/>
<rect x="1139.2" y="311.8" width="11.4" height="11.4"/>
<rect x="1145.3" y="310.8" width="11.4" height="11.4"/>
<rect x="1066.3" y="323.8" width="11.4" height="11.4"/>
<rect x="1072.3" y="324.5" width="11.4" height="11.4"/>
<rect x="1078.4" y="325.2" width="11.4" height="11.4"/>
<rect x="1084.4" y="326" width="11.4" height="11.4"/>
<rect x="1090.4" y="327" width="11.4" height="11.4"/>
<rect x="1096.4" y="328.2" width="11.4" height="11.4"/>
<rect x="1102.3" y="329.5" width="11.4" height="11.4"/>
<rect x="1108.3" y="330.8" width="11.4" height="11.4"/>
<rect x="1114.3" y="329.5" width="11.4" height="11.4"/>
<rect x="1120.2" y="328.2" width="11.4" height="11.4"/>
<rect x="1126.2" y="327" width="11.4" height="11.4"/>
<rect x="1132.2" y="326" width="11.4" height="11.4"/>
<rect x="1138.2" y="325.2" width="11.4" height="11.4"/>
<rect x="1144.3" y="324.5" width="11.4" height="11.4"/>
<rect x="1150.3" y="323.8" width="11.4" height="11.4"/>
<rect x="1066.3" y="336.5" width="11.4" height="11.4"/>
<rect x="1072.3" y="337.3" width="11.4" height="11.4"/>
<rect x="1078.4" y="338.1" width="11.4" height="11.4"/>
<rect x="1084.4" y="338.9" width="11.4" height="11.4"/>
<rect x="1090.4" y="340" width="11.4" height="11.4"/>
<rect x="1096.4" y="341.2" width="11.4" height="11.4"/>
<rect x="1102.3" y="342.5" width="11.4" height="11.4"/>
<rect x="1108.3" y="343.8" width="11.4" height="11.4"/>
<rect x="1114.3" y="342.5" width="11.4" height="11.4"/>
<rect x="1120.2" y="341.2" width="11.4" height="11.4"/>
<rect x="1126.2" y="340" width="11.4" height="11.4"/>
<rect x="1132.2" y="338.9" width="11.4" height="11.4"/>
<rect x="1138.2" y="338.1" width="11.4" height="11.4"/>
<rect x="1144.3" y="337.3" width="11.4" height="11.4"/>
<rect x="1150.3" y="336.5" width="11.4" height="11.4"/>
<rect x="1066.3" y="349.3" width="11.4" height="11.4"/>
<rect x="1072.3" y="350.2" width="11.4" height="11.4"/>
<rect x="1078.4" y="351.2" width="11.4" height="11.4"/>
<rect x="1084.4" y="352.1" width="11.4" height="11.4"/>
<rect x="1090.4" y="353.3" width="11.4" height="11.4"/>
<rect x="1096.4" y="354.5" width="11.4" height="11.4"/>
<rect x="1102.3" y="355.8" width="11.4" height="11.4"/>
<rect x="1108.3" y="357.1" width="11.4" height="11.4"/>
<rect x="1114.3" y="355.8" width="11.4" height="11.4"/>
<rect x="1120.2" y="354.5" width="11.4" height="11.4"/>
<rect x="1126.2" y="353.3" width="11.4" height="11.4"/>
<rect x="1132.2" y="352.1" width="11.4" height="11.4"/>
<rect x="1138.2" y="351.2" width="11.4" height="11.4"/>
<rect x="1144.3" y="350.2" width="11.4" height="11.4"/>
<rect x="1150.3" y="349.3" width="11.4" height="11.4"/>
<rect x="1067.3" y="355.8" width="11.4" height="11.4"/>
<rect x="1073.2" y="357.7" width="11.4" height="11.4"/>
<rect x="1079.1" y="359.6" width="11.4" height="11.4"/>
<rect x="1085" y="361.5" width="11.4" height="11.4"/>
<rect x="1090.8" y="363.6" width="11.4" height="11.4"/>
<rect x="1096.6" y="365.6" width="11.4" height="11.4"/>
<rect x="1102.5" y="367.7" width="11.4" height="11.4"/>
<rect x="1108.3" y="369.8" width="11.4" height="11.4"/>
<rect x="1114.1" y="367.7" width="11.4" height="11.4"/>
<rect x="1120" y="365.6" width="11.4" height="11.4"/>
<rect x="1125.8" y="363.6" width="11.4" height="11.4"/>
<rect x="1131.6" y="361.5" width="11.4" height="11.4"/>
<rect x="1137.5" y="359.6" width="11.4" height="11.4"/>
<rect x="1143.4" y="357.7" width="11.4" height="11.4"/>
<rect x="1149.3" y="355.8" width="11.4" height="11.4"/>
<rect x="1094.3" y="364.3" width="11.4" height="11.4"/>
<rect x="1098.7" y="366.5" width="11.4" height="11.4"/>
<rect x="1103" y="368.7" width="11.4" height="11.4"/>
<rect x="1107.4" y="370.8" width="11.4" height="11.4"/>
<rect x="1112.1" y="371.3" width="11.4" height="11.4"/>
<rect x="1116.6" y="370.3" width="11.4" height="11.4"/>
<rect x="1120.5" y="367.3" width="11.4" height="11.4"/>
<rect x="1124.3" y="364.3" width="11.4" height="11.4"/>
<polygon points="1112.2,306 1117.2,306 1117.2,313.5 1112.2,313.5" fill="#fff"/>
<rect x="151.4" y="654.9" width="400.9" height="403" fill="#f0f0f0"/>
<rect x="153.4" y="656.9" width="396.9" height="399" fill="none" stroke="#fff" stroke-width="2"/>
<line x1="151.4" y1="654.9" x2="552.3" y2="654.9" stroke="#333" stroke-width="1.8"/>
<line x1="552.3" y1="654.9" x2="552.3" y2="1057.9" stroke="#333" stroke-width="1.8"/>
<line x1="151.4" y1="1057.9" x2="552.3" y2="654.9" stroke="#777" stroke-width="1.1"/>
<polyline points="151.4,1057.9 156,1052 160.7,1046 160.7,1018.7 163.2,1018.7 163.2,1013.8 165.6,1012 169,1011.3 169.4,999 171.4,999 171.4,971.8 174.7,971.8 176.4,960.3 178.8,957.8 179.7,938.8 183,935.5 186.2,934 187,929 194.5,929 196,924 198.6,921.5 211,920.7 212.6,918.7 219.2,916.6 222.5,915 225.8,914 226.6,899.3 229,894.4 232.4,889.4 239,888.6 240.6,887 244.7,886.1 249.7,882 250.5,878.7 253.8,872.1 263.7,871.3 268.6,868.8 269.4,865.5 276.9,861.4 281.8,858.1 286.7,856.5 290,850.7 300,850.3 303.2,846 312.9,843.8 315,840.6 323.6,839.5 324.6,834.2 330,831 336.4,826.7 338.6,823 345,820.3 347.1,816 357.8,815 358.9,809.6 366.4,807.4 367.5,803.1 373.9,797.8 375,792.4 376,778.5 379.2,774.2 385.7,772.1 387.8,766.7 390,759.2 393.2,755 395.3,749.6 398.5,744.2 405,741 416.7,740 421,733.5 422,728.2 428.5,726 435,717.5 441.4,715.3 446.7,712.1 458.5,710 465,706.8 469.2,705.7 470.3,698.2 471.3,689.6 482,688.6 484.2,685.3 492.8,683.2 493.8,673.6 494.9,665 508.8,663.9 512,660.7 518.5,657.5 531.3,656 552,655.4" fill="none" stroke="#333" stroke-width="1.5" stroke-linejoin="miter"/>
<line x1="151.4" y1="653.9" x2="151.4" y2="1058.9" stroke="#222" stroke-width="1.7"/>
<line x1="144.4" y1="1057.9" x2="553.3" y2="1057.9" stroke="#222" stroke-width="2"/>
<line x1="144.4" y1="1057.9" x2="151.4" y2="1057.9" stroke="#222" stroke-width="2"/>
<line x1="151.4" y1="1057.9" x2="151.4" y2="1064.9" stroke="#222" stroke-width="2"/>
<text x="137.9" y="1057.9" font-size="24" text-anchor="middle" transform="rotate(-90 137.9 1057.9)" fill="#000">0.0</text>
<text x="151.7" y="1087.5" font-size="24" text-anchor="middle" fill="#000">0.0</text>
<line x1="144.4" y1="977.3" x2="151.4" y2="977.3" stroke="#222" stroke-width="2"/>
<line x1="231.6" y1="1057.9" x2="231.6" y2="1064.9" stroke="#222" stroke-width="2"/>
<text x="137.9" y="977.3" font-size="24" text-anchor="middle" transform="rotate(-90 137.9 977.3)" fill="#000">0.2</text>
<text x="233.2" y="1087.5" font-size="24" text-anchor="middle" fill="#000">0.2</text>
<line x1="144.4" y1="896.7" x2="151.4" y2="896.7" stroke="#222" stroke-width="2"/>
<line x1="311.8" y1="1057.9" x2="311.8" y2="1064.9" stroke="#222" stroke-width="2"/>
<text x="137.9" y="896.7" font-size="24" text-anchor="middle" transform="rotate(-90 137.9 896.7)" fill="#000">0.4</text>
<text x="313.7" y="1087.5" font-size="24" text-anchor="middle" fill="#000">0.4</text>
<line x1="144.4" y1="816.1" x2="151.4" y2="816.1" stroke="#222" stroke-width="2"/>
<line x1="391.9" y1="1057.9" x2="391.9" y2="1064.9" stroke="#222" stroke-width="2"/>
<text x="137.9" y="816.1" font-size="24" text-anchor="middle" transform="rotate(-90 137.9 816.1)" fill="#000">0.6</text>
<text x="395.3" y="1087.5" font-size="24" text-anchor="middle" fill="#000">0.6</text>
<line x1="144.4" y1="735.5" x2="151.4" y2="735.5" stroke="#222" stroke-width="2"/>
<line x1="472.1" y1="1057.9" x2="472.1" y2="1064.9" stroke="#222" stroke-width="2"/>
<text x="137.9" y="735.5" font-size="24" text-anchor="middle" transform="rotate(-90 137.9 735.5)" fill="#000">0.8</text>
<text x="475.9" y="1087.5" font-size="24" text-anchor="middle" fill="#000">0.8</text>
<line x1="144.4" y1="654.9" x2="151.4" y2="654.9" stroke="#222" stroke-width="2"/>
<line x1="552.3" y1="1057.9" x2="552.3" y2="1064.9" stroke="#222" stroke-width="2"/>
<text x="137.9" y="654.9" font-size="24" text-anchor="middle" transform="rotate(-90 137.9 654.9)" fill="#000">1.0</text>
<text x="556.8" y="1087.5" font-size="24" text-anchor="middle" fill="#000">1.0</text>
<text x="354.5" y="1131.2" font-size="24" text-anchor="middle" fill="#000">1-specificity</text>
<text x="103.5" y="854.5" font-size="23.5" text-anchor="middle" transform="rotate(-90 103.5 854.5)" fill="#000">sensitivity</text>
<text x="359.8" y="1191.2" font-size="24.5" text-anchor="middle" fill="#000">miR-99b-5p</text>
<rect x="771.7" y="655.9" width="397.2" height="399.1" fill="#f0f0f0"/>
<rect x="773.7" y="657.9" width="393.2" height="395.1" fill="none" stroke="#fff" stroke-width="2"/>
<line x1="771.7" y1="655.9" x2="1168.9" y2="655.9" stroke="#333" stroke-width="1.8"/>
<line x1="1168.9" y1="655.9" x2="1168.9" y2="1055" stroke="#333" stroke-width="1.8"/>
<line x1="771.7" y1="1055" x2="1168.9" y2="655.9" stroke="#777" stroke-width="1.1"/>
<polyline points="771.7,1054.8 779,1054.4 779.9,1049 781.5,1043.3 785.6,1043.3 786.5,1039.2 789.8,1036 790.6,1031 792.2,1029.3 792.2,1022 794.7,1014.5 796.4,1008.7 798.8,1002.2 804.6,1002.2 804.6,958.5 809.5,958.5 810.4,951.9 816.1,950.3 819.4,947.8 820.2,934.6 822.7,928.8 825.2,922.3 827.7,915.7 831.8,907.4 833.4,898.4 838.4,897.5 839.2,882.7 843.3,879.4 849.1,874.5 852.4,871.2 859,871.2 860.6,866.2 864.7,864.6 865.3,837.1 867.9,834.5 874.5,834.5 877.1,829.2 881.1,826.6 885,817.4 894.3,812.1 900.9,810.8 902.2,802.3 908.8,798.9 916.7,797.6 919.3,781.8 923.3,773.9 928.5,771.2 932.5,760.7 936.4,755.4 941.7,754.1 952.3,747.5 954.9,740.9 962.8,739.6 973.3,734.3 977.3,727.8 983.9,717.2 991.8,715.9 1002.3,709.3 1005,698.8 1010.2,694.8 1012.9,692.2 1026,689.5 1031.3,683 1049.8,681.6 1055,678.5 1063,676.4 1078.8,675 1082.7,672.4 1089.3,671.1 1119.6,670.6 1121,668.5 1139.4,668 1142,663.2 1150,661.9 1155.2,659.2 1163.1,657.9 1168.4,656.6" fill="none" stroke="#333" stroke-width="1.5" stroke-linejoin="miter"/>
<line x1="771.7" y1="654.9" x2="771.7" y2="1056" stroke="#222" stroke-width="1.7"/>
<line x1="764.7" y1="1055" x2="1169.9" y2="1055" stroke="#222" stroke-width="2"/>
<line x1="764.7" y1="1055" x2="771.7" y2="1055" stroke="#222" stroke-width="2"/>
<line x1="771.7" y1="1055" x2="771.7" y2="1062" stroke="#222" stroke-width="2"/>
<text x="758.7" y="1055" font-size="24.5" text-anchor="middle" transform="rotate(-90 758.7 1055)" fill="#000">0.0</text>
<text x="771.1" y="1086.5" font-size="24.5" text-anchor="middle" fill="#000">0.0</text>
<line x1="764.7" y1="975.2" x2="771.7" y2="975.2" stroke="#222" stroke-width="2"/>
<line x1="851.1" y1="1055" x2="851.1" y2="1062" stroke="#222" stroke-width="2"/>
<text x="758.7" y="975.2" font-size="24.5" text-anchor="middle" transform="rotate(-90 758.7 975.2)" fill="#000">0.2</text>
<text x="853.2" y="1086.5" font-size="24.5" text-anchor="middle" fill="#000">0.2</text>
<line x1="764.7" y1="895.4" x2="771.7" y2="895.4" stroke="#222" stroke-width="2"/>
<line x1="930.6" y1="1055" x2="930.6" y2="1062" stroke="#222" stroke-width="2"/>
<text x="758.7" y="895.4" font-size="24.5" text-anchor="middle" transform="rotate(-90 758.7 895.4)" fill="#000">0.4</text>
<text x="928" y="1086.5" font-size="24.5" text-anchor="middle" fill="#000">0.4</text>
<line x1="764.7" y1="815.5" x2="771.7" y2="815.5" stroke="#222" stroke-width="2"/>
<line x1="1010" y1="1055" x2="1010" y2="1062" stroke="#222" stroke-width="2"/>
<text x="758.7" y="815.5" font-size="24.5" text-anchor="middle" transform="rotate(-90 758.7 815.5)" fill="#000">0.6</text>
<text x="1009.7" y="1086.5" font-size="24.5" text-anchor="middle" fill="#000">0.6</text>
<line x1="764.7" y1="735.7" x2="771.7" y2="735.7" stroke="#222" stroke-width="2"/>
<line x1="1089.5" y1="1055" x2="1089.5" y2="1062" stroke="#222" stroke-width="2"/>
<text x="758.7" y="735.7" font-size="24.5" text-anchor="middle" transform="rotate(-90 758.7 735.7)" fill="#000">0.8</text>
<text x="1092.2" y="1086.5" font-size="24.5" text-anchor="middle" fill="#000">0.8</text>
<line x1="764.7" y1="655.9" x2="771.7" y2="655.9" stroke="#222" stroke-width="2"/>
<line x1="1168.9" y1="1055" x2="1168.9" y2="1062" stroke="#222" stroke-width="2"/>
<text x="758.7" y="655.9" font-size="24.5" text-anchor="middle" transform="rotate(-90 758.7 655.9)" fill="#000">1.0</text>
<text x="1168.1" y="1086.5" font-size="24.5" text-anchor="middle" fill="#000">1.0</text>
<text x="975.5" y="1126.5" font-size="24" text-anchor="middle" fill="#000">1-specificity</text>
<text x="727.5" y="859.5" font-size="25.5" text-anchor="middle" transform="rotate(-90 727.5 859.5)" fill="#000">sensitivity</text>
<text x="979.5" y="1192" font-size="24.5" text-anchor="middle" fill="#000">miR-150-5p</text>
<rect x="165.2" y="1801.6" width="422.2" height="421.6" fill="#f0f0f0"/>
<rect x="167.2" y="1803.6" width="418.2" height="417.6" fill="none" stroke="#fff" stroke-width="2"/>
<line x1="165.2" y1="1801.6" x2="587.4" y2="1801.6" stroke="#333" stroke-width="1.8"/>
<line x1="587.4" y1="1801.6" x2="587.4" y2="2223.2" stroke="#333" stroke-width="1.8"/>
<line x1="165.2" y1="2223.2" x2="587.4" y2="1801.6" stroke="#1fb04a" stroke-width="1.8"/>
<polyline points="165.1,2222.5 166.3,2217.3 167.2,2212.8 170,2211.9 170,2206.1 176,2206.1 176,2182.5 179,2182 181.7,2176.6 183.9,2176.6 183.9,2159.3 186.8,2159.3 186.8,2124 192.3,2124 192.3,2106.4 194.8,2106.4 194.8,2088.7 200.2,2088.7 200.2,2083.2 211.6,2083.2 211.6,2076.9 214,2076.9 214,2071.5 228,2071.5 228,2066 233.4,2065.1 237,2059.7 244.8,2059.7 244.8,2054.2 247.9,2042.5 264.2,2041.6 264.2,2036.1 272.7,2036.1 272.7,2030.3 280.5,2029.8 289,2024.3 289,2012.6 311.3,2012.6 311.3,2000.8 335.8,2000.8 335.8,1994.4 346.7,1994.4 346.7,1983.2 352.5,1983.2 352.5,1977.2 360.8,1977.2 360.8,1971.5 368.7,1971.5 368.7,1953.7 383.2,1953.7 383.2,1942.1 391.4,1942.1 391.4,1935.9 402.6,1935.9 402.6,1917 405.5,1912.7 408.4,1912.1 411.3,1906.9 413.8,1906.3 413.8,1901.1 416.1,1901.1 417.1,1886 419,1883.1 421.6,1883.1 421.6,1877.8 443.6,1877.8 449,1865.7 449,1854 454.5,1854 454.5,1848.2 463,1848.2 463,1842.4 474.2,1842.4 474.2,1836.6 477.1,1830.8 499,1830.8 499,1825 501.7,1824 501.7,1819.2 526.9,1819.2 526.9,1807 543.5,1807 543.5,1802 587.5,1802" fill="none" stroke="#3246a8" stroke-width="1.7" stroke-linejoin="miter"/>
<line x1="165.2" y1="1800.6" x2="165.2" y2="2224.2" stroke="#222" stroke-width="1.7"/>
<line x1="158.2" y1="2223.2" x2="588.4" y2="2223.2" stroke="#222" stroke-width="2"/>
<line x1="158.2" y1="2223.2" x2="165.2" y2="2223.2" stroke="#222" stroke-width="2"/>
<line x1="165.2" y1="2223.2" x2="165.2" y2="2230.2" stroke="#222" stroke-width="2"/>
<text x="147.7" y="2223.2" font-size="29.5" text-anchor="middle" transform="rotate(-90 147.7 2223.2)" fill="#000">0.0</text>
<text x="165.4" y="2253.5" font-size="29.5" text-anchor="middle" fill="#000">0.0</text>
<line x1="158.2" y1="2138.9" x2="165.2" y2="2138.9" stroke="#222" stroke-width="2"/>
<line x1="249.6" y1="2223.2" x2="249.6" y2="2230.2" stroke="#222" stroke-width="2"/>
<text x="147.7" y="2138.9" font-size="29.5" text-anchor="middle" transform="rotate(-90 147.7 2138.9)" fill="#000">0.2</text>
<text x="248.4" y="2253.5" font-size="29.5" text-anchor="middle" fill="#000">0.2</text>
<line x1="158.2" y1="2054.6" x2="165.2" y2="2054.6" stroke="#222" stroke-width="2"/>
<line x1="334.1" y1="2223.2" x2="334.1" y2="2230.2" stroke="#222" stroke-width="2"/>
<text x="147.7" y="2054.6" font-size="29.5" text-anchor="middle" transform="rotate(-90 147.7 2054.6)" fill="#000">0.4</text>
<text x="333.3" y="2253.5" font-size="29.5" text-anchor="middle" fill="#000">0.4</text>
<line x1="158.2" y1="1970.2" x2="165.2" y2="1970.2" stroke="#222" stroke-width="2"/>
<line x1="418.5" y1="2223.2" x2="418.5" y2="2230.2" stroke="#222" stroke-width="2"/>
<text x="147.7" y="1970.2" font-size="29.5" text-anchor="middle" transform="rotate(-90 147.7 1970.2)" fill="#000">0.6</text>
<text x="417.8" y="2253.5" font-size="29.5" text-anchor="middle" fill="#000">0.6</text>
<line x1="158.2" y1="1885.9" x2="165.2" y2="1885.9" stroke="#222" stroke-width="2"/>
<line x1="503" y1="2223.2" x2="503" y2="2230.2" stroke="#222" stroke-width="2"/>
<text x="147.7" y="1885.9" font-size="29.5" text-anchor="middle" transform="rotate(-90 147.7 1885.9)" fill="#000">0.8</text>
<text x="502.8" y="2253.5" font-size="29.5" text-anchor="middle" fill="#000">0.8</text>
<line x1="158.2" y1="1801.6" x2="165.2" y2="1801.6" stroke="#222" stroke-width="2"/>
<line x1="587.4" y1="2223.2" x2="587.4" y2="2230.2" stroke="#222" stroke-width="2"/>
<text x="147.7" y="1801.6" font-size="29.5" text-anchor="middle" transform="rotate(-90 147.7 1801.6)" fill="#000">1.0</text>
<text x="587.1" y="2253.5" font-size="29.5" text-anchor="middle" fill="#000">1.0</text>
<text x="371.4" y="2293.3" font-size="30" text-anchor="middle" fill="#000">1-specificity</text>
<text font-size="31" text-anchor="middle" transform="translate(109 2006.5) rotate(-90) scale(1 0.86)">sensitivity</text>
<text x="373" y="2328.5" font-size="30.5" text-anchor="middle" fill="#000">miR-99b-5p</text>
<rect x="762.4" y="1811.2" width="416.7" height="416.6" fill="#f0f0f0"/>
<rect x="764.4" y="1813.2" width="412.7" height="412.6" fill="none" stroke="#fff" stroke-width="2"/>
<line x1="762.4" y1="1811.2" x2="1179.1" y2="1811.2" stroke="#333" stroke-width="1.8"/>
<line x1="1179.1" y1="1811.2" x2="1179.1" y2="2227.8" stroke="#333" stroke-width="1.8"/>
<line x1="762.4" y1="2227.8" x2="1179.1" y2="1811.2" stroke="#1fb04a" stroke-width="1.8"/>
<polyline points="762.4,2227.6 769.9,2227.4 769.9,2222.9 773.1,2221.1 773.1,2216.5 781.3,2216.5 781.3,2204.8 783.6,2204.8 783.6,2193 786.2,2186.6 786.7,2181.7 792.2,2181.7 792.2,2175.8 797.6,2175.8 797.6,2117.8 803,2117.8 803,2112.3 807.9,2112.3 812.6,2106 813.4,2083.3 819.3,2083.3 819.3,2066.1 822.1,2066.1 822.4,2060.3 824.8,2059.8 824.8,2054.3 827.5,2053.4 827.5,2036.8 832.9,2036.8 832.9,2019 854.7,2019 854.7,2013.6 860.1,2013.6 859.8,1984.8 871,1984.8 871,1979.2 873.8,1979.2 873.8,1973.1 878,1973.1 879.4,1967.5 898.2,1967.5 898.2,1956.3 903.2,1955.4 907.4,1949.8 914.4,1949.8 914.4,1944.2 917.8,1942.8 917.8,1927.4 922.3,1920.4 922.3,1915.4 927.9,1915.4 928.4,1903.6 931.2,1892.4 941,1892.4 952.2,1879.8 953.1,1875.1 965.4,1875.1 971.8,1868.6 977.4,1868.6 978.3,1863 983,1851.8 1004.9,1851.8 1004.9,1846.2 1006.8,1846.2 1008.2,1839.2 1010.2,1834.2 1015.2,1834.2 1015.8,1828.6 1059.5,1828.6 1062.3,1823 1127.3,1822.4 1127.8,1816.8 1149.1,1816.8 1149.7,1811.8 1179,1811.8" fill="none" stroke="#3246a8" stroke-width="1.7" stroke-linejoin="miter"/>
<line x1="762.4" y1="1810.2" x2="762.4" y2="2228.8" stroke="#222" stroke-width="1.7"/>
<line x1="755.4" y1="2227.8" x2="1180.1" y2="2227.8" stroke="#222" stroke-width="2"/>
<line x1="755.4" y1="2227.8" x2="762.4" y2="2227.8" stroke="#222" stroke-width="2"/>
<line x1="762.4" y1="2227.8" x2="762.4" y2="2234.8" stroke="#222" stroke-width="2"/>
<text x="745.9" y="2227.8" font-size="29.5" text-anchor="middle" transform="rotate(-90 745.9 2227.8)" fill="#000">0.0</text>
<text x="762.6" y="2264.5" font-size="29.5" text-anchor="middle" fill="#000">0.0</text>
<line x1="755.4" y1="2144.5" x2="762.4" y2="2144.5" stroke="#222" stroke-width="2"/>
<line x1="845.7" y1="2227.8" x2="845.7" y2="2234.8" stroke="#222" stroke-width="2"/>
<text x="745.9" y="2144.5" font-size="29.5" text-anchor="middle" transform="rotate(-90 745.9 2144.5)" fill="#000">0.2</text>
<text x="846.8" y="2264.5" font-size="29.5" text-anchor="middle" fill="#000">0.2</text>
<line x1="755.4" y1="2061.2" x2="762.4" y2="2061.2" stroke="#222" stroke-width="2"/>
<line x1="929.1" y1="2227.8" x2="929.1" y2="2234.8" stroke="#222" stroke-width="2"/>
<text x="745.9" y="2061.2" font-size="29.5" text-anchor="middle" transform="rotate(-90 745.9 2061.2)" fill="#000">0.4</text>
<text x="931.3" y="2264.5" font-size="29.5" text-anchor="middle" fill="#000">0.4</text>
<line x1="755.4" y1="1977.8" x2="762.4" y2="1977.8" stroke="#222" stroke-width="2"/>
<line x1="1012.4" y1="2227.8" x2="1012.4" y2="2234.8" stroke="#222" stroke-width="2"/>
<text x="745.9" y="1977.8" font-size="29.5" text-anchor="middle" transform="rotate(-90 745.9 1977.8)" fill="#000">0.6</text>
<text x="1015.7" y="2264.5" font-size="29.5" text-anchor="middle" fill="#000">0.6</text>
<line x1="755.4" y1="1894.5" x2="762.4" y2="1894.5" stroke="#222" stroke-width="2"/>
<line x1="1095.8" y1="2227.8" x2="1095.8" y2="2234.8" stroke="#222" stroke-width="2"/>
<text x="745.9" y="1894.5" font-size="29.5" text-anchor="middle" transform="rotate(-90 745.9 1894.5)" fill="#000">0.8</text>
<text x="1091.8" y="2264.5" font-size="29.5" text-anchor="middle" fill="#000">0.8</text>
<line x1="755.4" y1="1811.2" x2="762.4" y2="1811.2" stroke="#222" stroke-width="2"/>
<line x1="1179.1" y1="2227.8" x2="1179.1" y2="2234.8" stroke="#222" stroke-width="2"/>
<text x="745.9" y="1811.2" font-size="29.5" text-anchor="middle" transform="rotate(-90 745.9 1811.2)" fill="#000">1.0</text>
<text x="1176" y="2264.5" font-size="29.5" text-anchor="middle" fill="#000">1.0</text>
<text x="975.5" y="2307" font-size="30" text-anchor="middle" fill="#000">1-specificity</text>
<text font-size="30.3" text-anchor="middle" transform="translate(708 2019) rotate(-90) scale(1 0.86)">sensitivity</text>
<text x="979.8" y="2340.5" font-size="30.5" text-anchor="middle" fill="#000">miR-150-5p</text>
<line x1="169.3" y1="1299" x2="169.3" y2="1580.3" stroke="#000" stroke-width="2.6"/>
<line x1="161" y1="1300" x2="169.3" y2="1300" stroke="#000" stroke-width="2.4"/>
<text x="157" y="1310.8" font-size="30" text-anchor="end" fill="#000">10</text>
<line x1="161" y1="1393" x2="169.3" y2="1393" stroke="#000" stroke-width="2.4"/>
<text x="157" y="1403.8" font-size="30" text-anchor="end" fill="#000">5</text>
<line x1="161" y1="1486" x2="169.3" y2="1486" stroke="#000" stroke-width="2.4"/>
<text x="157" y="1496.8" font-size="30" text-anchor="end" fill="#000">0</text>
<line x1="161" y1="1579" x2="169.3" y2="1579" stroke="#000" stroke-width="2.4"/>
<text x="157" y="1589.8" font-size="30" text-anchor="end" fill="#000">-5</text>
<line x1="161" y1="1579" x2="587.5" y2="1579" stroke="#000" stroke-width="2.6"/>
<line x1="274" y1="1579" x2="274" y2="1588" stroke="#000" stroke-width="2.4"/>
<line x1="483.5" y1="1579" x2="483.5" y2="1588" stroke="#000" stroke-width="2.4"/>
<text x="128.9" y="1433.6" font-size="30.5" text-anchor="middle" transform="rotate(-90 128.9 1433.6)" fill="#000">ΔCT</text>
<text x="274" y="1621" font-size="30" text-anchor="middle" fill="#000">HD</text>
<text x="491" y="1621" font-size="30" text-anchor="middle" fill="#000">Early Stage</text>
<text x="272" y="1691" font-size="30" text-anchor="middle" fill="#000">n=153</text>
<text x="494.3" y="1691" font-size="30" text-anchor="middle" fill="#000">n=72</text>
<text x="367" y="1747.5" font-size="30.5" text-anchor="middle" fill="#000">miR-99b-5p</text>
<line x1="266.5" y1="1270.8" x2="482.9" y2="1270.8" stroke="#222" stroke-width="1.4"/>
<line x1="266.5" y1="1270.2" x2="266.5" y2="1298" stroke="#222" stroke-width="1.4"/>
<line x1="482.9" y1="1270.2" x2="482.9" y2="1298" stroke="#222" stroke-width="1.4"/>
<text x="373" y="1268.5" font-size="27" text-anchor="middle" fill="#000" letter-spacing="0.8">****</text>
<circle cx="273.7" cy="1333" r="6"/>
<circle cx="257.2" cy="1339.6" r="6"/>
<circle cx="273.7" cy="1349.4" r="6"/>
<circle cx="287.7" cy="1342.8" r="6"/>
<circle cx="223.4" cy="1367.6" r="6"/>
<circle cx="239.9" cy="1373.3" r="6"/>
<circle cx="257.2" cy="1382.4" r="6"/>
<circle cx="265.5" cy="1389" r="6"/>
<circle cx="257" cy="1384" r="6"/>
<circle cx="282.6" cy="1385.3" r="6"/>
<circle cx="289.9" cy="1384" r="6"/>
<circle cx="306" cy="1378" r="6"/>
<circle cx="322" cy="1373.5" r="6"/>
<circle cx="214.8" cy="1457.8" r="6"/>
<circle cx="231.9" cy="1463.7" r="6"/>
<circle cx="248.8" cy="1467.6" r="6"/>
<circle cx="265.5" cy="1471.6" r="6"/>
<circle cx="282.2" cy="1470.7" r="6"/>
<circle cx="298.9" cy="1464.3" r="6"/>
<circle cx="315.7" cy="1460.4" r="6"/>
<circle cx="332.7" cy="1455.8" r="6"/>
<circle cx="223.7" cy="1477.5" r="6"/>
<circle cx="240.5" cy="1482.1" r="6"/>
<circle cx="256.9" cy="1487.4" r="6"/>
<circle cx="273.8" cy="1493.1" r="6"/>
<circle cx="290.8" cy="1482.5" r="6"/>
<circle cx="307.7" cy="1478.8" r="6"/>
<circle cx="324.2" cy="1477.5" r="6"/>
<circle cx="273.8" cy="1523.7" r="6"/>
<circle cx="209.5" cy="1391.1" r="6"/>
<circle cx="214.9" cy="1392" r="6"/>
<circle cx="220.2" cy="1393" r="6"/>
<circle cx="225.6" cy="1393.9" r="6"/>
<circle cx="231" cy="1394.9" r="6"/>
<circle cx="236.3" cy="1395.8" r="6"/>
<circle cx="241.7" cy="1396.8" r="6"/>
<circle cx="247.1" cy="1397.8" r="6"/>
<circle cx="252.4" cy="1398.9" r="6"/>
<circle cx="257.8" cy="1399.9" r="6"/>
<circle cx="263.1" cy="1400.9" r="6"/>
<circle cx="268.5" cy="1401.9" r="6"/>
<circle cx="273.8" cy="1402.9" r="6"/>
<circle cx="279.2" cy="1401.9" r="6"/>
<circle cx="284.5" cy="1400.8" r="6"/>
<circle cx="289.8" cy="1399.7" r="6"/>
<circle cx="295.2" cy="1398.6" r="6"/>
<circle cx="300.5" cy="1397.4" r="6"/>
<circle cx="305.8" cy="1396.3" r="6"/>
<circle cx="311.2" cy="1395.2" r="6"/>
<circle cx="316.5" cy="1394.3" r="6"/>
<circle cx="321.9" cy="1393.3" r="6"/>
<circle cx="327.3" cy="1392.3" r="6"/>
<circle cx="332.6" cy="1391.4" r="6"/>
<circle cx="338" cy="1390.4" r="6"/>
<circle cx="240" cy="1391" r="6"/>
<circle cx="245.3" cy="1391.9" r="6"/>
<circle cx="250.5" cy="1392.8" r="6"/>
<circle cx="255.8" cy="1393.6" r="6"/>
<circle cx="261" cy="1394.8" r="6"/>
<circle cx="266.2" cy="1396" r="6"/>
<circle cx="271.4" cy="1397.3" r="6"/>
<circle cx="276.6" cy="1397.4" r="6"/>
<circle cx="281.8" cy="1396.1" r="6"/>
<circle cx="287" cy="1394.8" r="6"/>
<circle cx="292.2" cy="1393.6" r="6"/>
<circle cx="297.5" cy="1392.8" r="6"/>
<circle cx="302.7" cy="1391.9" r="6"/>
<circle cx="308" cy="1391" r="6"/>
<circle cx="214.8" cy="1403" r="6"/>
<circle cx="220.2" cy="1404.3" r="6"/>
<circle cx="225.5" cy="1405.5" r="6"/>
<circle cx="230.9" cy="1406.8" r="6"/>
<circle cx="236.3" cy="1408.1" r="6"/>
<circle cx="241.7" cy="1409.2" r="6"/>
<circle cx="247.1" cy="1410.3" r="6"/>
<circle cx="252.5" cy="1411.3" r="6"/>
<circle cx="257.9" cy="1412.4" r="6"/>
<circle cx="263.3" cy="1413.4" r="6"/>
<circle cx="268.8" cy="1414.5" r="6"/>
<circle cx="274.2" cy="1415.5" r="6"/>
<circle cx="279.6" cy="1414.3" r="6"/>
<circle cx="285" cy="1413.2" r="6"/>
<circle cx="290.4" cy="1412.1" r="6"/>
<circle cx="295.8" cy="1410.9" r="6"/>
<circle cx="301.2" cy="1409.8" r="6"/>
<circle cx="306.6" cy="1408.7" r="6"/>
<circle cx="311.9" cy="1407.5" r="6"/>
<circle cx="317.3" cy="1406.2" r="6"/>
<circle cx="322.7" cy="1404.9" r="6"/>
<circle cx="328" cy="1403.6" r="6"/>
<circle cx="333.4" cy="1402.3" r="6"/>
<circle cx="212" cy="1411" r="6"/>
<circle cx="217.4" cy="1411.7" r="6"/>
<circle cx="222.8" cy="1412.4" r="6"/>
<circle cx="228.1" cy="1413.1" r="6"/>
<circle cx="233.5" cy="1413.8" r="6"/>
<circle cx="238.9" cy="1414.5" r="6"/>
<circle cx="244.3" cy="1415.2" r="6"/>
<circle cx="249.7" cy="1415.8" r="6"/>
<circle cx="255.1" cy="1416.4" r="6"/>
<circle cx="260.4" cy="1417" r="6"/>
<circle cx="265.9" cy="1417" r="6"/>
<circle cx="271.3" cy="1417" r="6"/>
<circle cx="276.7" cy="1417" r="6"/>
<circle cx="282.1" cy="1417" r="6"/>
<circle cx="287.6" cy="1417" r="6"/>
<circle cx="293" cy="1416.6" r="6"/>
<circle cx="298.3" cy="1415.9" r="6"/>
<circle cx="303.7" cy="1415.2" r="6"/>
<circle cx="309.1" cy="1414.5" r="6"/>
<circle cx="314.5" cy="1413.8" r="6"/>
<circle cx="319.9" cy="1413.1" r="6"/>
<circle cx="325.2" cy="1412.4" r="6"/>
<circle cx="330.6" cy="1411.7" r="6"/>
<circle cx="336" cy="1411" r="6"/>
<circle cx="205.5" cy="1420.1" r="6"/>
<circle cx="211" cy="1421.1" r="6"/>
<circle cx="216.5" cy="1422.2" r="6"/>
<circle cx="221.9" cy="1423.2" r="6"/>
<circle cx="227.4" cy="1424.3" r="6"/>
<circle cx="232.9" cy="1425.3" r="6"/>
<circle cx="238.4" cy="1426.3" r="6"/>
<circle cx="243.9" cy="1427.4" r="6"/>
<circle cx="249.4" cy="1428.4" r="6"/>
<circle cx="254.9" cy="1429.4" r="6"/>
<circle cx="260.3" cy="1430.4" r="6"/>
<circle cx="265.8" cy="1431.5" r="6"/>
<circle cx="271.3" cy="1432.5" r="6"/>
<circle cx="276.8" cy="1432.5" r="6"/>
<circle cx="282.3" cy="1431.5" r="6"/>
<circle cx="287.8" cy="1430.4" r="6"/>
<circle cx="293.2" cy="1429.4" r="6"/>
<circle cx="298.7" cy="1428.4" r="6"/>
<circle cx="304.2" cy="1427.4" r="6"/>
<circle cx="309.7" cy="1426.3" r="6"/>
<circle cx="315.2" cy="1425.3" r="6"/>
<circle cx="320.7" cy="1424.3" r="6"/>
<circle cx="326.2" cy="1423.2" r="6"/>
<circle cx="331.6" cy="1422.2" r="6"/>
<circle cx="337.1" cy="1421.1" r="6"/>
<circle cx="342.6" cy="1420.1" r="6"/>
<circle cx="222" cy="1424" r="6"/>
<circle cx="227.5" cy="1424.9" r="6"/>
<circle cx="232.9" cy="1425.8" r="6"/>
<circle cx="238.4" cy="1426.7" r="6"/>
<circle cx="243.9" cy="1427.6" r="6"/>
<circle cx="249.3" cy="1428.5" r="6"/>
<circle cx="254.8" cy="1429.3" r="6"/>
<circle cx="260.3" cy="1430" r="6"/>
<circle cx="265.8" cy="1430.8" r="6"/>
<circle cx="271.3" cy="1431.6" r="6"/>
<circle cx="276.7" cy="1431.6" r="6"/>
<circle cx="282.2" cy="1430.7" r="6"/>
<circle cx="287.7" cy="1429.9" r="6"/>
<circle cx="293.2" cy="1429.1" r="6"/>
<circle cx="298.6" cy="1428.2" r="6"/>
<circle cx="304.1" cy="1427.4" r="6"/>
<circle cx="309.6" cy="1426.5" r="6"/>
<circle cx="315.1" cy="1425.7" r="6"/>
<circle cx="320.5" cy="1424.8" r="6"/>
<circle cx="326" cy="1424" r="6"/>
<circle cx="209.5" cy="1437" r="6"/>
<circle cx="215.7" cy="1438.4" r="6"/>
<circle cx="222" cy="1439.9" r="6"/>
<circle cx="228.2" cy="1441.3" r="6"/>
<circle cx="234.4" cy="1442.9" r="6"/>
<circle cx="240.6" cy="1444.5" r="6"/>
<circle cx="246.7" cy="1446.3" r="6"/>
<circle cx="251.2" cy="1450.8" r="6"/>
<circle cx="257.3" cy="1452.1" r="6"/>
<circle cx="263.7" cy="1452.8" r="6"/>
<circle cx="270" cy="1453.5" r="6"/>
<circle cx="276.4" cy="1453.7" r="6"/>
<circle cx="282.7" cy="1452.8" r="6"/>
<circle cx="289" cy="1452" r="6"/>
<circle cx="294.9" cy="1449.8" r="6"/>
<circle cx="300.1" cy="1446.2" r="6"/>
<circle cx="306.3" cy="1444.4" r="6"/>
<circle cx="312.4" cy="1442.7" r="6"/>
<circle cx="318.6" cy="1441" r="6"/>
<circle cx="324.8" cy="1439.5" r="6"/>
<circle cx="331.1" cy="1438.1" r="6"/>
<circle cx="337.3" cy="1436.7" r="6"/>
<polygon points="246.4,1439.6 271.4,1443.6 271.4,1447.2 252,1445.6 246.4,1441.4" fill="#fff"/>
<polygon points="276.7,1447.2 276.7,1443.6 300,1439.8 298,1442 290,1445.6" fill="#fff"/>
<polyline points="238.5,1402.3 271.4,1409.5" fill="none" stroke="#fff" stroke-width="1.6" stroke-linecap="round" stroke-linejoin="round"/>
<polyline points="276.7,1409.5 309.7,1401.6" fill="none" stroke="#fff" stroke-width="1.6" stroke-linecap="round" stroke-linejoin="round"/>
<polygon points="228,1421.6 271.4,1421.6 271.4,1428.8 228,1422.4" fill="#fff"/>
<polygon points="276.7,1428.8 276.7,1421.6 320,1421.6 320,1422.4" fill="#fff"/>
<line x1="204.9" y1="1419.8" x2="343.3" y2="1419.8" stroke="#000" stroke-width="2.5"/>
<line x1="239.8" y1="1389.8" x2="308.3" y2="1389.8" stroke="#000" stroke-width="2.5"/>
<line x1="273.8" y1="1390" x2="273.8" y2="1451" stroke="#000" stroke-width="2.6"/>
<rect x="477.4" y="1307.5" width="12" height="12"/>
<rect x="468.9" y="1335.4" width="12" height="12"/>
<rect x="485.7" y="1333" width="12" height="12"/>
<rect x="460.7" y="1355.8" width="12" height="12"/>
<rect x="477.4" y="1355.8" width="12" height="12"/>
<rect x="494.2" y="1351.9" width="12" height="12"/>
<rect x="416.8" y="1360.7" width="12" height="12"/>
<rect x="538" y="1365.1" width="12" height="12"/>
<rect x="502.5" y="1433" width="12" height="12"/>
<rect x="452.1" y="1441.5" width="12" height="12"/>
<rect x="468.9" y="1448.7" width="12" height="12"/>
<rect x="485.7" y="1442.2" width="12" height="12"/>
<rect x="424" y="1369" width="12" height="12"/>
<rect x="431.1" y="1369.8" width="12" height="12"/>
<rect x="438.3" y="1370.6" width="12" height="12"/>
<rect x="445.4" y="1371.5" width="12" height="12"/>
<rect x="452.5" y="1372.3" width="12" height="12"/>
<rect x="459.7" y="1373.2" width="12" height="12"/>
<rect x="466.8" y="1374.1" width="12" height="12"/>
<rect x="473.9" y="1375.1" width="12" height="12"/>
<rect x="481" y="1375" width="12" height="12"/>
<rect x="488.2" y="1374.1" width="12" height="12"/>
<rect x="495.3" y="1373.1" width="12" height="12"/>
<rect x="502.4" y="1372.2" width="12" height="12"/>
<rect x="509.5" y="1371.5" width="12" height="12"/>
<rect x="516.7" y="1370.8" width="12" height="12"/>
<rect x="523.8" y="1370.2" width="12" height="12"/>
<rect x="531" y="1369.5" width="12" height="12"/>
<rect x="415" y="1379" width="12" height="12"/>
<rect x="421.7" y="1380.7" width="12" height="12"/>
<rect x="428.4" y="1382.5" width="12" height="12"/>
<rect x="435.2" y="1384.2" width="12" height="12"/>
<rect x="441.9" y="1385.9" width="12" height="12"/>
<rect x="448.6" y="1387.7" width="12" height="12"/>
<rect x="455.4" y="1389.4" width="12" height="12"/>
<rect x="462.1" y="1391.1" width="12" height="12"/>
<rect x="468.8" y="1392.8" width="12" height="12"/>
<rect x="475.5" y="1394.5" width="12" height="12"/>
<rect x="482.3" y="1393.8" width="12" height="12"/>
<rect x="489" y="1392.1" width="12" height="12"/>
<rect x="495.7" y="1390.4" width="12" height="12"/>
<rect x="502.5" y="1388.7" width="12" height="12"/>
<rect x="509.2" y="1387" width="12" height="12"/>
<rect x="516" y="1385.4" width="12" height="12"/>
<rect x="522.7" y="1383.8" width="12" height="12"/>
<rect x="529.5" y="1382.2" width="12" height="12"/>
<rect x="536.2" y="1380.6" width="12" height="12"/>
<rect x="543" y="1379" width="12" height="12"/>
<rect x="418" y="1399.5" width="12" height="12"/>
<rect x="424.8" y="1401" width="12" height="12"/>
<rect x="431.7" y="1402.6" width="12" height="12"/>
<rect x="438.5" y="1404.1" width="12" height="12"/>
<rect x="445.3" y="1405.6" width="12" height="12"/>
<rect x="452.2" y="1407.2" width="12" height="12"/>
<rect x="459" y="1408.8" width="12" height="12"/>
<rect x="465.8" y="1410.3" width="12" height="12"/>
<rect x="472.6" y="1411.9" width="12" height="12"/>
<rect x="479.5" y="1412.5" width="12" height="12"/>
<rect x="486.3" y="1411" width="12" height="12"/>
<rect x="493.1" y="1409.4" width="12" height="12"/>
<rect x="499.9" y="1407.8" width="12" height="12"/>
<rect x="506.8" y="1406.3" width="12" height="12"/>
<rect x="513.6" y="1404.8" width="12" height="12"/>
<rect x="520.5" y="1403.4" width="12" height="12"/>
<rect x="527.3" y="1401.9" width="12" height="12"/>
<rect x="534.2" y="1400.5" width="12" height="12"/>
<rect x="541" y="1399" width="12" height="12"/>
<rect x="415" y="1415" width="12" height="12"/>
<rect x="421.7" y="1416.7" width="12" height="12"/>
<rect x="428.4" y="1418.5" width="12" height="12"/>
<rect x="435.1" y="1420.2" width="12" height="12"/>
<rect x="441.8" y="1421.9" width="12" height="12"/>
<rect x="448.5" y="1423.6" width="12" height="12"/>
<rect x="455.3" y="1425.1" width="12" height="12"/>
<rect x="462" y="1426.6" width="12" height="12"/>
<rect x="468.8" y="1428.1" width="12" height="12"/>
<rect x="475.5" y="1429.6" width="12" height="12"/>
<rect x="482.3" y="1428.9" width="12" height="12"/>
<rect x="489.1" y="1427.4" width="12" height="12"/>
<rect x="495.8" y="1425.9" width="12" height="12"/>
<rect x="502.6" y="1424.4" width="12" height="12"/>
<rect x="509.3" y="1422.9" width="12" height="12"/>
<rect x="516.1" y="1421.3" width="12" height="12"/>
<rect x="522.8" y="1419.8" width="12" height="12"/>
<rect x="529.5" y="1418.2" width="12" height="12"/>
<rect x="536.3" y="1416.6" width="12" height="12"/>
<rect x="543" y="1415" width="12" height="12"/>
<line x1="414.2" y1="1403.3" x2="552.6" y2="1403.3" stroke="#000" stroke-width="2.5"/>
<line x1="483.4" y1="1381" x2="483.4" y2="1428" stroke="#000" stroke-width="2.6"/>
<line x1="765.3" y1="1284.5" x2="765.3" y2="1578.8" stroke="#000" stroke-width="2.6"/>
<line x1="757" y1="1285.5" x2="765.3" y2="1285.5" stroke="#000" stroke-width="2.4"/>
<text x="756.3" y="1296.8" font-size="31" text-anchor="end" fill="#000">15</text>
<line x1="757" y1="1358.7" x2="765.3" y2="1358.7" stroke="#000" stroke-width="2.4"/>
<text x="756.3" y="1369.9" font-size="31" text-anchor="end" fill="#000">10</text>
<line x1="757" y1="1431.8" x2="765.3" y2="1431.8" stroke="#000" stroke-width="2.4"/>
<text x="756.3" y="1443" font-size="31" text-anchor="end" fill="#000">5</text>
<line x1="757" y1="1505" x2="765.3" y2="1505" stroke="#000" stroke-width="2.4"/>
<text x="756.3" y="1516.2" font-size="31" text-anchor="end" fill="#000">0</text>
<line x1="757" y1="1578.2" x2="765.3" y2="1578.2" stroke="#000" stroke-width="2.4"/>
<text x="756.3" y="1589.4" font-size="31" text-anchor="end" fill="#000">-5</text>
<line x1="757" y1="1577.8" x2="1204.5" y2="1577.8" stroke="#000" stroke-width="2.6"/>
<line x1="875.6" y1="1577.8" x2="875.6" y2="1586.5" stroke="#000" stroke-width="2.4"/>
<line x1="1094.5" y1="1577.8" x2="1094.5" y2="1586.5" stroke="#000" stroke-width="2.4"/>
<circle cx="772" cy="1505.2" r="1.4"/>
<circle cx="780.6" cy="1505.2" r="1.4"/>
<circle cx="789.2" cy="1505.2" r="1.4"/>
<circle cx="797.8" cy="1505.2" r="1.4"/>
<circle cx="806.4" cy="1505.2" r="1.4"/>
<circle cx="815" cy="1505.2" r="1.4"/>
<circle cx="823.6" cy="1505.2" r="1.4"/>
<circle cx="832.2" cy="1505.2" r="1.4"/>
<circle cx="840.8" cy="1505.2" r="1.4"/>
<circle cx="849.4" cy="1505.2" r="1.4"/>
<circle cx="858" cy="1505.2" r="1.4"/>
<circle cx="866.6" cy="1505.2" r="1.4"/>
<circle cx="875.2" cy="1505.2" r="1.4"/>
<circle cx="883.8" cy="1505.2" r="1.4"/>
<circle cx="892.4" cy="1505.2" r="1.4"/>
<circle cx="901" cy="1505.2" r="1.4"/>
<circle cx="909.6" cy="1505.2" r="1.4"/>
<circle cx="918.2" cy="1505.2" r="1.4"/>
<circle cx="926.8" cy="1505.2" r="1.4"/>
<circle cx="935.4" cy="1505.2" r="1.4"/>
<circle cx="944" cy="1505.2" r="1.4"/>
<circle cx="952.6" cy="1505.2" r="1.4"/>
<circle cx="961.2" cy="1505.2" r="1.4"/>
<circle cx="969.8" cy="1505.2" r="1.4"/>
<circle cx="978.4" cy="1505.2" r="1.4"/>
<circle cx="987" cy="1505.2" r="1.4"/>
<circle cx="995.6" cy="1505.2" r="1.4"/>
<circle cx="1004.2" cy="1505.2" r="1.4"/>
<circle cx="1012.8" cy="1505.2" r="1.4"/>
<circle cx="1021.4" cy="1505.2" r="1.4"/>
<circle cx="1030" cy="1505.2" r="1.4"/>
<circle cx="1038.6" cy="1505.2" r="1.4"/>
<circle cx="1047.2" cy="1505.2" r="1.4"/>
<circle cx="1055.8" cy="1505.2" r="1.4"/>
<circle cx="1064.4" cy="1505.2" r="1.4"/>
<circle cx="1073" cy="1505.2" r="1.4"/>
<circle cx="1081.6" cy="1505.2" r="1.4"/>
<circle cx="1090.2" cy="1505.2" r="1.4"/>
<circle cx="1098.8" cy="1505.2" r="1.4"/>
<circle cx="1107.4" cy="1505.2" r="1.4"/>
<circle cx="1116" cy="1505.2" r="1.4"/>
<circle cx="1124.6" cy="1505.2" r="1.4"/>
<circle cx="1133.2" cy="1505.2" r="1.4"/>
<circle cx="1141.8" cy="1505.2" r="1.4"/>
<circle cx="1150.4" cy="1505.2" r="1.4"/>
<circle cx="1159" cy="1505.2" r="1.4"/>
<circle cx="1167.6" cy="1505.2" r="1.4"/>
<circle cx="1176.2" cy="1505.2" r="1.4"/>
<circle cx="1184.8" cy="1505.2" r="1.4"/>
<circle cx="1193.4" cy="1505.2" r="1.4"/>
<circle cx="1202" cy="1505.2" r="1.4"/>
<text x="721.5" y="1433" font-size="30.5" text-anchor="middle" transform="rotate(-90 721.5 1433)" fill="#000">ΔCT</text>
<text x="875.5" y="1622.5" font-size="30" text-anchor="middle" fill="#000">HD</text>
<text x="1104.5" y="1622.5" font-size="30" text-anchor="middle" fill="#000">Early Stage</text>
<text x="893" y="1692" font-size="30" text-anchor="middle" fill="#000">n=153</text>
<text x="1099.5" y="1692" font-size="30" text-anchor="middle" fill="#000">n=72</text>
<text x="987" y="1755" font-size="30.5" text-anchor="middle" fill="#000">miR-150-5p</text>
<line x1="876.1" y1="1307" x2="1098" y2="1307" stroke="#222" stroke-width="1.4"/>
<line x1="876.1" y1="1306.3" x2="876.1" y2="1341" stroke="#222" stroke-width="1.4"/>
<line x1="1098" y1="1306.3" x2="1098" y2="1341" stroke="#222" stroke-width="1.4"/>
<text x="986.2" y="1304" font-size="27" text-anchor="middle" fill="#000">****</text>
<circle cx="875.4" cy="1365.8" r="6.2"/>
<circle cx="875.4" cy="1405.4" r="6.2"/>
<circle cx="866.6" cy="1413.3" r="6.2"/>
<circle cx="884.1" cy="1427.8" r="6.2"/>
<circle cx="858" cy="1438.3" r="6.2"/>
<circle cx="892.9" cy="1441.6" r="6.2"/>
<circle cx="875.4" cy="1452.1" r="6.2"/>
<circle cx="822.4" cy="1456.8" r="6.2"/>
<circle cx="840.2" cy="1464.7" r="6.2"/>
<circle cx="858" cy="1470" r="6.2"/>
<circle cx="866.6" cy="1478.5" r="6.2"/>
<circle cx="884.1" cy="1477.8" r="6.2"/>
<circle cx="892.9" cy="1470.6" r="6.2"/>
<circle cx="910.4" cy="1467.3" r="6.2"/>
<circle cx="927.8" cy="1463.3" r="6.2"/>
<circle cx="831.4" cy="1552" r="6.2"/>
<circle cx="849" cy="1562.3" r="6.2"/>
<circle cx="866.6" cy="1563.8" r="6.2"/>
<circle cx="884.1" cy="1562.9" r="6.2"/>
<circle cx="901.5" cy="1555.7" r="6.2"/>
<circle cx="919.3" cy="1551" r="6.2"/>
<circle cx="813.2" cy="1481.2" r="6.2"/>
<circle cx="818.6" cy="1482.2" r="6.2"/>
<circle cx="824" cy="1483.2" r="6.2"/>
<circle cx="829.4" cy="1484.2" r="6.2"/>
<circle cx="834.8" cy="1485.1" r="6.2"/>
<circle cx="840.3" cy="1486.1" r="6.2"/>
<circle cx="845.7" cy="1487.1" r="6.2"/>
<circle cx="851.1" cy="1487.9" r="6.2"/>
<circle cx="856.5" cy="1488.8" r="6.2"/>
<circle cx="862" cy="1489.6" r="6.2"/>
<circle cx="867.4" cy="1490.5" r="6.2"/>
<circle cx="872.8" cy="1491.3" r="6.2"/>
<circle cx="878.3" cy="1491.3" r="6.2"/>
<circle cx="883.7" cy="1490.4" r="6.2"/>
<circle cx="889.2" cy="1489.6" r="6.2"/>
<circle cx="894.6" cy="1488.8" r="6.2"/>
<circle cx="900" cy="1487.9" r="6.2"/>
<circle cx="905.5" cy="1487.1" r="6.2"/>
<circle cx="910.8" cy="1485.9" r="6.2"/>
<circle cx="916.2" cy="1484.7" r="6.2"/>
<circle cx="921.6" cy="1483.6" r="6.2"/>
<circle cx="927" cy="1482.4" r="6.2"/>
<circle cx="932.3" cy="1481.2" r="6.2"/>
<circle cx="937.7" cy="1480" r="6.2"/>
<circle cx="809.5" cy="1495.5" r="6.2"/>
<circle cx="815" cy="1496.7" r="6.2"/>
<circle cx="820.5" cy="1497.9" r="6.2"/>
<circle cx="826" cy="1499" r="6.2"/>
<circle cx="831.5" cy="1500.2" r="6.2"/>
<circle cx="836.9" cy="1501.4" r="6.2"/>
<circle cx="842.4" cy="1502.6" r="6.2"/>
<circle cx="848" cy="1503.6" r="6.2"/>
<circle cx="853.5" cy="1504.6" r="6.2"/>
<circle cx="859" cy="1505.6" r="6.2"/>
<circle cx="864.5" cy="1506.5" r="6.2"/>
<circle cx="870.1" cy="1507.5" r="6.2"/>
<circle cx="875.6" cy="1508.5" r="6.2"/>
<circle cx="881.1" cy="1507.4" r="6.2"/>
<circle cx="886.6" cy="1506.4" r="6.2"/>
<circle cx="892.2" cy="1505.4" r="6.2"/>
<circle cx="897.7" cy="1504.4" r="6.2"/>
<circle cx="903.2" cy="1503.4" r="6.2"/>
<circle cx="908.7" cy="1502.4" r="6.2"/>
<circle cx="914.2" cy="1501.2" r="6.2"/>
<circle cx="919.7" cy="1500.1" r="6.2"/>
<circle cx="925.2" cy="1498.9" r="6.2"/>
<circle cx="930.7" cy="1497.8" r="6.2"/>
<circle cx="936.2" cy="1496.6" r="6.2"/>
<circle cx="941.7" cy="1495.5" r="6.2"/>
<circle cx="810" cy="1510.5" r="6.2"/>
<circle cx="815.4" cy="1511.8" r="6.2"/>
<circle cx="820.9" cy="1513" r="6.2"/>
<circle cx="826.3" cy="1514.3" r="6.2"/>
<circle cx="831.7" cy="1515.6" r="6.2"/>
<circle cx="837.1" cy="1516.9" r="6.2"/>
<circle cx="842.6" cy="1518.1" r="6.2"/>
<circle cx="848" cy="1519.3" r="6.2"/>
<circle cx="853.5" cy="1520.6" r="6.2"/>
<circle cx="858.9" cy="1521.8" r="6.2"/>
<circle cx="864.3" cy="1523" r="6.2"/>
<circle cx="869.8" cy="1524.2" r="6.2"/>
<circle cx="875.2" cy="1525.5" r="6.2"/>
<circle cx="880.6" cy="1524.3" r="6.2"/>
<circle cx="886.1" cy="1523" r="6.2"/>
<circle cx="891.5" cy="1521.8" r="6.2"/>
<circle cx="896.9" cy="1520.5" r="6.2"/>
<circle cx="902.4" cy="1519.3" r="6.2"/>
<circle cx="907.8" cy="1518" r="6.2"/>
<circle cx="913.2" cy="1516.8" r="6.2"/>
<circle cx="918.7" cy="1515.5" r="6.2"/>
<circle cx="924.1" cy="1514.3" r="6.2"/>
<circle cx="929.5" cy="1513" r="6.2"/>
<circle cx="935" cy="1511.8" r="6.2"/>
<circle cx="940.4" cy="1510.5" r="6.2"/>
<circle cx="812" cy="1528" r="6.2"/>
<circle cx="817.4" cy="1528.8" r="6.2"/>
<circle cx="822.9" cy="1529.6" r="6.2"/>
<circle cx="828.3" cy="1530.5" r="6.2"/>
<circle cx="833.7" cy="1531.3" r="6.2"/>
<circle cx="839.1" cy="1532.1" r="6.2"/>
<circle cx="844.6" cy="1532.9" r="6.2"/>
<circle cx="849.7" cy="1534.8" r="6.2"/>
<circle cx="854.9" cy="1536.7" r="6.2"/>
<circle cx="860" cy="1538.7" r="6.2"/>
<circle cx="865.1" cy="1540.6" r="6.2"/>
<circle cx="870.3" cy="1542.6" r="6.2"/>
<circle cx="875.4" cy="1543.5" r="6.2"/>
<circle cx="880.6" cy="1541.7" r="6.2"/>
<circle cx="885.8" cy="1539.8" r="6.2"/>
<circle cx="890.9" cy="1538" r="6.2"/>
<circle cx="896.1" cy="1536.2" r="6.2"/>
<circle cx="901.3" cy="1534.3" r="6.2"/>
<circle cx="906.5" cy="1532.7" r="6.2"/>
<circle cx="911.9" cy="1531.8" r="6.2"/>
<circle cx="917.3" cy="1530.9" r="6.2"/>
<circle cx="922.8" cy="1530" r="6.2"/>
<circle cx="928.2" cy="1529.1" r="6.2"/>
<circle cx="933.6" cy="1528.2" r="6.2"/>
<circle cx="939" cy="1527.3" r="6.2"/>
<circle cx="855" cy="1497" r="6.2"/>
<circle cx="859.1" cy="1497.8" r="6.2"/>
<circle cx="863.2" cy="1498.6" r="6.2"/>
<circle cx="867.3" cy="1499.4" r="6.2"/>
<circle cx="871.4" cy="1500.2" r="6.2"/>
<circle cx="875.5" cy="1501" r="6.2"/>
<circle cx="879.6" cy="1500.2" r="6.2"/>
<circle cx="883.7" cy="1499.4" r="6.2"/>
<circle cx="887.8" cy="1498.6" r="6.2"/>
<circle cx="891.9" cy="1497.8" r="6.2"/>
<circle cx="896" cy="1497" r="6.2"/>
<circle cx="855" cy="1513" r="6.2"/>
<circle cx="859.1" cy="1514" r="6.2"/>
<circle cx="863.2" cy="1515" r="6.2"/>
<circle cx="867.3" cy="1516" r="6.2"/>
<circle cx="871.4" cy="1517" r="6.2"/>
<circle cx="875.5" cy="1518" r="6.2"/>
<circle cx="879.6" cy="1517" r="6.2"/>
<circle cx="883.7" cy="1516" r="6.2"/>
<circle cx="887.8" cy="1515" r="6.2"/>
<circle cx="891.9" cy="1514" r="6.2"/>
<circle cx="896" cy="1513" r="6.2"/>
<circle cx="855" cy="1532" r="6.2"/>
<circle cx="859.1" cy="1533.2" r="6.2"/>
<circle cx="863.2" cy="1534.4" r="6.2"/>
<circle cx="867.3" cy="1535.6" r="6.2"/>
<circle cx="871.4" cy="1536.8" r="6.2"/>
<circle cx="875.5" cy="1538" r="6.2"/>
<circle cx="879.6" cy="1536.8" r="6.2"/>
<circle cx="883.7" cy="1535.6" r="6.2"/>
<circle cx="887.8" cy="1534.4" r="6.2"/>
<circle cx="891.9" cy="1533.2" r="6.2"/>
<circle cx="896" cy="1532" r="6.2"/>
<polyline points="845,1496.3 874,1500.3" fill="none" stroke="#fff" stroke-width="1.2" stroke-linecap="round" stroke-linejoin="round"/>
<polyline points="877,1500.3 906,1496.3" fill="none" stroke="#fff" stroke-width="1.2" stroke-linecap="round" stroke-linejoin="round"/>
<polyline points="845,1511.5 874,1517" fill="none" stroke="#fff" stroke-width="1.2" stroke-linecap="round" stroke-linejoin="round"/>
<polyline points="877,1517 906,1511.5" fill="none" stroke="#fff" stroke-width="1.2" stroke-linecap="round" stroke-linejoin="round"/>
<polyline points="848,1530 874,1536.5" fill="none" stroke="#fff" stroke-width="1.4" stroke-linecap="round" stroke-linejoin="round"/>
<polyline points="877,1536.5 903,1530" fill="none" stroke="#fff" stroke-width="1.4" stroke-linecap="round" stroke-linejoin="round"/>
<line x1="843.8" y1="1498.5" x2="906.4" y2="1498.5" stroke="#000" stroke-width="2"/>
<line x1="875.4" y1="1488" x2="875.4" y2="1540" stroke="#000" stroke-width="2.6"/>
<rect x="1080" y="1412.2" width="12.1" height="12.1"/>
<rect x="1097.5" y="1427.5" width="12.1" height="12.1"/>
<rect x="1044.9" y="1447.4" width="12.1" height="12.1"/>
<rect x="1132.8" y="1446.5" width="12.1" height="12.1"/>
<rect x="1062.4" y="1457.5" width="12.1" height="12.1"/>
<rect x="1080" y="1458.2" width="12.1" height="12.1"/>
<rect x="1097.5" y="1457.5" width="12.1" height="12.1"/>
<rect x="1115" y="1457.2" width="12.1" height="12.1"/>
<rect x="1022.2" y="1462.8" width="12.1" height="12.1"/>
<rect x="1088.2" y="1512.5" width="12.1" height="12.1"/>
<rect x="1092.2" y="1515.2" width="12.1" height="12.1"/>
<rect x="1097.5" y="1525" width="12.1" height="12.1"/>
<rect x="1080" y="1531" width="12.1" height="12.1"/>
<rect x="1023" y="1463" width="12.1" height="12.1"/>
<rect x="1029" y="1464" width="12.1" height="12.1"/>
<rect x="1035" y="1465.1" width="12.1" height="12.1"/>
<rect x="1041" y="1466.1" width="12.1" height="12.1"/>
<rect x="1047" y="1467.2" width="12.1" height="12.1"/>
<rect x="1053" y="1468.3" width="12.1" height="12.1"/>
<rect x="1059" y="1468.8" width="12.1" height="12.1"/>
<rect x="1065.1" y="1469.3" width="12.1" height="12.1"/>
<rect x="1071.2" y="1469.7" width="12.1" height="12.1"/>
<rect x="1077.3" y="1470.1" width="12.1" height="12.1"/>
<rect x="1083.4" y="1470.6" width="12.1" height="12.1"/>
<rect x="1089.4" y="1470.8" width="12.1" height="12.1"/>
<rect x="1095.5" y="1470" width="12.1" height="12.1"/>
<rect x="1101.5" y="1469.1" width="12.1" height="12.1"/>
<rect x="1107.5" y="1468.3" width="12.1" height="12.1"/>
<rect x="1113.6" y="1467.4" width="12.1" height="12.1"/>
<rect x="1119.6" y="1466.6" width="12.1" height="12.1"/>
<rect x="1125.6" y="1465.8" width="12.1" height="12.1"/>
<rect x="1131.7" y="1465.1" width="12.1" height="12.1"/>
<rect x="1137.8" y="1464.4" width="12.1" height="12.1"/>
<rect x="1143.8" y="1463.8" width="12.1" height="12.1"/>
<rect x="1149.9" y="1463.1" width="12.1" height="12.1"/>
<rect x="1156" y="1462.5" width="12.1" height="12.1"/>
<rect x="1069" y="1472.5" width="12.1" height="12.1"/>
<rect x="1074.5" y="1473.2" width="12.1" height="12.1"/>
<rect x="1080.1" y="1473.9" width="12.1" height="12.1"/>
<rect x="1085.7" y="1474.6" width="12.1" height="12.1"/>
<rect x="1091.3" y="1474.5" width="12.1" height="12.1"/>
<rect x="1096.8" y="1473.7" width="12.1" height="12.1"/>
<rect x="1102.4" y="1472.8" width="12.1" height="12.1"/>
<rect x="1108" y="1472" width="12.1" height="12.1"/>
<rect x="1024" y="1480.5" width="12.1" height="12.1"/>
<rect x="1029.9" y="1480.8" width="12.1" height="12.1"/>
<rect x="1035.9" y="1481.2" width="12.1" height="12.1"/>
<rect x="1041.9" y="1481.6" width="12.1" height="12.1"/>
<rect x="1047.8" y="1482" width="12.1" height="12.1"/>
<rect x="1053.8" y="1482.4" width="12.1" height="12.1"/>
<rect x="1059.7" y="1483" width="12.1" height="12.1"/>
<rect x="1065.7" y="1483.6" width="12.1" height="12.1"/>
<rect x="1071.6" y="1484.2" width="12.1" height="12.1"/>
<rect x="1077.6" y="1484.8" width="12.1" height="12.1"/>
<rect x="1083.5" y="1485.5" width="12.1" height="12.1"/>
<rect x="1089.5" y="1485.8" width="12.1" height="12.1"/>
<rect x="1095.4" y="1485.2" width="12.1" height="12.1"/>
<rect x="1101.4" y="1484.5" width="12.1" height="12.1"/>
<rect x="1107.3" y="1483.8" width="12.1" height="12.1"/>
<rect x="1113.3" y="1483.2" width="12.1" height="12.1"/>
<rect x="1119.2" y="1482.5" width="12.1" height="12.1"/>
<rect x="1125.1" y="1481.9" width="12.1" height="12.1"/>
<rect x="1131.1" y="1481.4" width="12.1" height="12.1"/>
<rect x="1137.1" y="1480.9" width="12.1" height="12.1"/>
<rect x="1143" y="1480.4" width="12.1" height="12.1"/>
<rect x="1149" y="1479.9" width="12.1" height="12.1"/>
<rect x="1155" y="1479.5" width="12.1" height="12.1"/>
<rect x="1069" y="1491" width="12.1" height="12.1"/>
<rect x="1074.5" y="1492.1" width="12.1" height="12.1"/>
<rect x="1080.1" y="1493.2" width="12.1" height="12.1"/>
<rect x="1085.7" y="1494.4" width="12.1" height="12.1"/>
<rect x="1091.2" y="1494.4" width="12.1" height="12.1"/>
<rect x="1096.8" y="1493.2" width="12.1" height="12.1"/>
<rect x="1102.4" y="1492.1" width="12.1" height="12.1"/>
<rect x="1108" y="1491" width="12.1" height="12.1"/>
<rect x="1024" y="1497.5" width="12.1" height="12.1"/>
<rect x="1029.9" y="1498.2" width="12.1" height="12.1"/>
<rect x="1035.8" y="1499" width="12.1" height="12.1"/>
<rect x="1041.7" y="1499.8" width="12.1" height="12.1"/>
<rect x="1047.7" y="1500.6" width="12.1" height="12.1"/>
<rect x="1053.6" y="1501.4" width="12.1" height="12.1"/>
<rect x="1059.5" y="1502.4" width="12.1" height="12.1"/>
<rect x="1065.4" y="1503.4" width="12.1" height="12.1"/>
<rect x="1071.3" y="1504.5" width="12.1" height="12.1"/>
<rect x="1077.2" y="1505.5" width="12.1" height="12.1"/>
<rect x="1083.1" y="1506.5" width="12.1" height="12.1"/>
<rect x="1089" y="1507.4" width="12.1" height="12.1"/>
<rect x="1094.9" y="1506.3" width="12.1" height="12.1"/>
<rect x="1100.7" y="1505.2" width="12.1" height="12.1"/>
<rect x="1106.6" y="1504.1" width="12.1" height="12.1"/>
<rect x="1112.5" y="1503" width="12.1" height="12.1"/>
<rect x="1118.4" y="1502" width="12.1" height="12.1"/>
<rect x="1124.3" y="1500.9" width="12.1" height="12.1"/>
<rect x="1130.2" y="1500.1" width="12.1" height="12.1"/>
<rect x="1136.2" y="1499.3" width="12.1" height="12.1"/>
<rect x="1142.1" y="1498.5" width="12.1" height="12.1"/>
<rect x="1148" y="1497.7" width="12.1" height="12.1"/>
<rect x="1154" y="1497" width="12.1" height="12.1"/>
<rect x="1076" y="1507" width="12.1" height="12.1"/>
<rect x="1082" y="1509.6" width="12.1" height="12.1"/>
<rect x="1088" y="1512.3" width="12.1" height="12.1"/>
<rect x="1094" y="1509.8" width="12.1" height="12.1"/>
<rect x="1100" y="1507" width="12.1" height="12.1"/>
<polyline points="1036,1481.3 1059.8,1482.7" fill="none" stroke="#fff" stroke-width="1.4" stroke-linecap="round" stroke-linejoin="round"/>
<polyline points="1060.5,1484.6 1073,1487" fill="none" stroke="#fff" stroke-width="2.4" stroke-linecap="round" stroke-linejoin="round"/>
<polyline points="1116,1486.2 1128,1484.2" fill="none" stroke="#fff" stroke-width="2.4" stroke-linecap="round" stroke-linejoin="round"/>
<polyline points="1136,1481.5 1153,1480.2" fill="none" stroke="#fff" stroke-width="1.4" stroke-linecap="round" stroke-linejoin="round"/>
<polyline points="1024.5,1496.6 1053.2,1497.6" fill="none" stroke="#fff" stroke-width="1.6" stroke-linecap="round" stroke-linejoin="round"/>
<polyline points="1136.3,1497.4 1165,1496.4" fill="none" stroke="#fff" stroke-width="1.6" stroke-linecap="round" stroke-linejoin="round"/>
<line x1="1022.2" y1="1491.2" x2="1167.9" y2="1491.2" stroke="#000" stroke-width="2.5"/>
</svg>
</body></html>
